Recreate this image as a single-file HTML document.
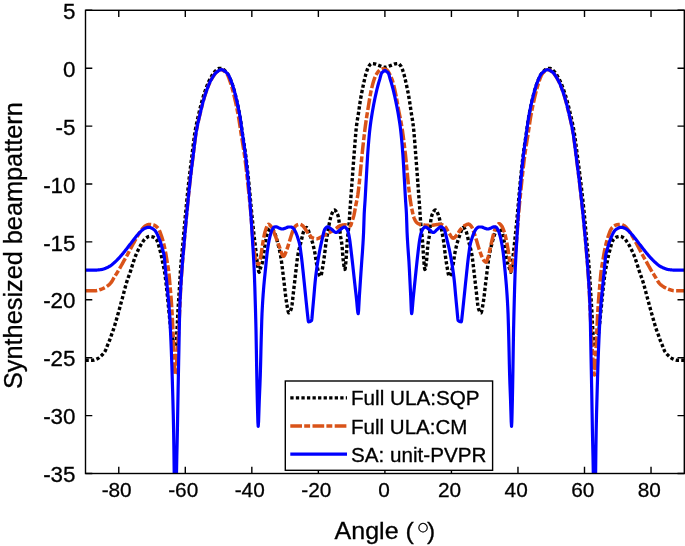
<!DOCTYPE html>
<html lang="en"><head><meta charset="utf-8"><title>Synthesized beampattern</title>
<style>html,body{margin:0;padding:0;background:#fff;}body{width:685px;height:546px;overflow:hidden}</style></head>
<body>
<svg width="685" height="546" viewBox="0 0 685 546" style="display:block">
<rect x="0" y="0" width="685" height="546" fill="#fff"/>
<defs><clipPath id="c"><rect x="85.50" y="10.30" width="598.80" height="463.20"/></clipPath></defs>
<g clip-path="url(#c)" fill="none" stroke-linejoin="round">
<path d="M85.50 360.30 L85.90 360.30 L86.30 360.30 L86.70 360.30 L87.10 360.30 L87.50 360.30 L87.90 360.30 L88.30 360.30 L88.70 360.30 L89.10 360.30 L89.50 360.30 L89.90 360.30 L90.30 360.30 L90.70 360.30 L91.10 360.30 L91.50 360.30 L91.90 360.30 L92.30 360.30 L92.68 360.29 L93.06 360.25 L93.44 360.19 L93.81 360.11 L94.19 360.01 L94.57 359.89 L94.95 359.76 L95.33 359.62 L95.71 359.46 L96.09 359.30 L96.46 359.13 L96.84 358.95 L97.22 358.78 L97.60 358.60 L97.99 358.40 L98.38 358.16 L98.77 357.90 L99.16 357.61 L99.55 357.29 L99.94 356.96 L100.33 356.61 L100.72 356.25 L101.11 355.88 L101.50 355.50 L101.90 355.11 L102.30 354.71 L102.70 354.29 L103.10 353.85 L103.50 353.38 L103.90 352.87 L104.30 352.33 L104.70 351.74 L105.10 351.10 L105.47 350.41 L105.83 349.58 L106.20 348.65 L106.57 347.69 L106.93 346.72 L107.30 345.80 L107.67 344.93 L108.03 344.07 L108.40 343.20 L108.77 342.33 L109.13 341.43 L109.50 340.50 L109.84 339.59 L110.18 338.63 L110.52 337.65 L110.86 336.67 L111.20 335.70 L111.57 334.69 L111.93 333.70 L112.30 332.71 L112.67 331.71 L113.03 330.68 L113.40 329.60 L113.79 328.40 L114.18 327.17 L114.58 325.90 L114.97 324.61 L115.36 323.29 L115.75 321.95 L116.14 320.59 L116.53 319.22 L116.92 317.85 L117.32 316.46 L117.71 315.08 L118.10 313.70 L118.47 312.40 L118.83 311.09 L119.20 309.76 L119.57 308.43 L119.93 307.08 L120.30 305.73 L120.67 304.37 L121.03 303.01 L121.40 301.65 L121.77 300.30 L122.13 298.95 L122.50 297.60 L122.87 296.24 L123.23 294.87 L123.60 293.47 L123.97 292.07 L124.33 290.67 L124.70 289.28 L125.07 287.90 L125.43 286.55 L125.80 285.22 L126.17 283.93 L126.53 282.69 L126.90 281.50 L127.28 280.34 L127.65 279.24 L128.03 278.19 L128.40 277.15 L128.78 276.13 L129.15 275.11 L129.53 274.07 L129.90 273.00 L130.29 271.85 L130.67 270.67 L131.06 269.46 L131.45 268.24 L131.83 266.99 L132.22 265.75 L132.61 264.50 L132.99 263.27 L133.38 262.05 L133.77 260.85 L134.15 259.69 L134.54 258.57 L134.93 257.49 L135.31 256.46 L135.70 255.50 L136.09 254.56 L136.49 253.65 L136.88 252.75 L137.27 251.87 L137.67 251.02 L138.06 250.18 L138.45 249.37 L138.85 248.58 L139.24 247.81 L139.63 247.07 L140.03 246.35 L140.42 245.65 L140.81 244.97 L141.21 244.32 L141.60 243.70 L141.97 243.13 L142.33 242.55 L142.70 241.98 L143.07 241.42 L143.43 240.88 L143.80 240.35 L144.17 239.86 L144.53 239.40 L144.90 238.97 L145.27 238.60 L145.63 238.27 L146.00 238.00 L146.40 237.74 L146.80 237.48 L147.20 237.24 L147.60 237.01 L148.00 236.81 L148.40 236.64 L148.80 236.51 L149.20 236.43 L149.60 236.40 L149.98 236.41 L150.36 236.44 L150.73 236.48 L151.11 236.54 L151.49 236.62 L151.87 236.70 L152.24 236.79 L152.62 236.89 L153.00 237.00 L153.40 237.14 L153.80 237.32 L154.20 237.55 L154.60 237.81 L155.00 238.13 L155.40 238.48 L155.80 238.87 L156.20 239.30 L156.57 239.80 L156.93 240.46 L157.30 241.28 L157.67 242.22 L158.03 243.28 L158.40 244.44 L158.77 245.67 L159.13 246.98 L159.50 248.33 L159.87 249.71 L160.23 251.11 L160.60 252.50 L161.00 254.14 L161.40 256.00 L161.80 257.98 L162.20 260.01 L162.60 262.00 L163.00 263.89 L163.40 265.74 L163.80 267.63 L164.20 269.69 L164.60 272.00 L164.97 274.45 L165.33 277.21 L165.70 280.22 L166.07 283.40 L166.43 286.69 L166.80 290.00 L167.20 293.78 L167.60 297.82 L168.00 301.97 L168.40 306.07 L168.80 310.00 L169.20 313.94 L169.60 318.07 L170.00 322.19 L170.40 326.13 L170.80 329.70 L171.20 332.72 L171.60 335.00 L171.99 336.79 L172.38 338.52 L172.77 340.17 L173.16 341.71 L173.55 343.10 L173.94 344.31 L174.33 345.31 L174.72 346.06 L175.11 346.53 L175.50 346.70 L175.88 345.12 L176.25 341.08 L176.62 335.69 L177.00 330.00 L177.33 323.95 L177.67 316.70 L178.00 310.00 L178.32 304.65 L178.65 299.76 L178.98 294.99 L179.30 290.00 L179.70 283.19 L180.10 276.20 L180.50 270.00 L180.86 265.34 L181.21 261.08 L181.57 257.10 L181.93 253.32 L182.29 249.61 L182.64 245.87 L183.00 242.00 L183.39 237.68 L183.77 233.34 L184.16 228.99 L184.54 224.66 L184.93 220.39 L185.31 216.19 L185.70 212.10 L186.06 208.32 L186.42 204.58 L186.79 200.89 L187.15 197.25 L187.51 193.67 L187.88 190.16 L188.24 186.73 L188.60 183.40 L188.96 180.22 L189.31 177.12 L189.67 174.08 L190.02 171.10 L190.38 168.17 L190.73 165.27 L191.09 162.40 L191.44 159.55 L191.80 156.70 L192.20 153.44 L192.60 150.13 L193.00 146.81 L193.40 143.53 L193.80 140.36 L194.20 137.34 L194.60 134.54 L195.00 132.00 L195.38 129.79 L195.76 127.71 L196.14 125.73 L196.52 123.84 L196.90 122.03 L197.28 120.28 L197.66 118.59 L198.04 116.94 L198.42 115.31 L198.80 113.70 L199.19 112.05 L199.58 110.41 L199.98 108.80 L200.37 107.22 L200.76 105.67 L201.15 104.14 L201.55 102.66 L201.94 101.20 L202.33 99.79 L202.72 98.42 L203.12 97.10 L203.51 95.82 L203.90 94.60 L204.29 93.41 L204.69 92.23 L205.08 91.08 L205.47 89.95 L205.87 88.85 L206.26 87.77 L206.65 86.71 L207.05 85.69 L207.44 84.70 L207.83 83.74 L208.23 82.82 L208.62 81.93 L209.01 81.08 L209.41 80.27 L209.80 79.50 L210.20 78.74 L210.60 78.00 L211.00 77.27 L211.40 76.56 L211.80 75.87 L212.20 75.20 L212.60 74.55 L213.00 73.94 L213.40 73.35 L213.80 72.80 L214.20 72.29 L214.60 71.82 L215.00 71.39 L215.40 71.00 L215.79 70.64 L216.18 70.28 L216.57 69.92 L216.96 69.58 L217.35 69.26 L217.74 68.98 L218.13 68.74 L218.52 68.56 L218.91 68.44 L219.30 68.40 L219.67 68.41 L220.03 68.43 L220.40 68.46 L220.77 68.50 L221.13 68.55 L221.50 68.60 L221.88 68.68 L222.26 68.81 L222.64 68.98 L223.02 69.19 L223.40 69.43 L223.78 69.72 L224.16 70.03 L224.54 70.37 L224.92 70.74 L225.30 71.13 L225.68 71.54 L226.06 71.96 L226.44 72.40 L226.82 72.85 L227.20 73.30 L227.59 73.81 L227.98 74.40 L228.38 75.05 L228.77 75.77 L229.16 76.55 L229.55 77.39 L229.95 78.27 L230.34 79.19 L230.73 80.16 L231.12 81.16 L231.52 82.18 L231.91 83.23 L232.30 84.30 L232.70 85.44 L233.10 86.67 L233.50 87.98 L233.90 89.36 L234.30 90.81 L234.70 92.32 L235.10 93.88 L235.50 95.49 L235.90 97.13 L236.30 98.80 L236.70 100.50 L237.09 102.18 L237.48 103.93 L237.87 105.72 L238.26 107.59 L238.64 109.52 L239.03 111.52 L239.42 113.60 L239.81 115.76 L240.20 118.00 L240.55 120.17 L240.90 122.53 L241.25 125.00 L241.60 127.53 L241.95 130.05 L242.30 132.50 L242.70 135.18 L243.10 137.79 L243.50 140.36 L243.90 142.92 L244.30 145.50 L244.70 148.14 L245.10 150.87 L245.50 153.71 L245.90 156.70 L246.28 159.66 L246.65 162.75 L247.03 165.97 L247.40 169.30 L247.78 172.72 L248.15 176.22 L248.53 179.78 L248.90 183.40 L249.29 187.27 L249.67 191.33 L250.06 195.52 L250.44 199.76 L250.83 203.98 L251.21 208.12 L251.60 212.10 L251.94 215.53 L252.29 218.91 L252.63 222.25 L252.97 225.53 L253.31 228.75 L253.66 231.91 L254.00 235.00 L254.40 238.50 L254.80 241.89 L255.20 245.20 L255.60 248.47 L256.00 251.73 L256.40 255.00 L256.72 257.77 L257.04 260.68 L257.36 263.50 L257.68 266.01 L258.00 268.00 L258.37 269.96 L258.73 271.61 L259.10 272.30 L259.45 271.83 L259.80 270.68 L260.15 269.27 L260.50 268.00 L260.90 266.86 L261.30 265.80 L261.70 264.71 L262.10 263.48 L262.50 262.00 L262.86 260.23 L263.21 257.95 L263.57 255.35 L263.93 252.58 L264.29 249.82 L264.64 247.24 L265.00 245.00 L265.36 242.96 L265.71 240.91 L266.07 238.92 L266.43 237.06 L266.79 235.41 L267.14 234.03 L267.50 233.00 L267.88 232.14 L268.25 231.32 L268.62 230.56 L269.00 229.88 L269.38 229.31 L269.75 228.88 L270.12 228.60 L270.50 228.50 L270.86 228.54 L271.21 228.66 L271.57 228.84 L271.93 229.08 L272.29 229.36 L272.64 229.67 L273.00 230.00 L273.38 230.47 L273.76 231.12 L274.14 231.91 L274.52 232.79 L274.90 233.70 L275.29 234.69 L275.68 235.78 L276.07 236.97 L276.46 238.24 L276.84 239.58 L277.23 240.99 L277.62 242.45 L278.01 243.96 L278.40 245.50 L278.74 246.90 L279.09 248.36 L279.43 249.89 L279.77 251.51 L280.11 253.23 L280.46 255.05 L280.80 257.00 L281.16 259.27 L281.52 261.80 L281.89 264.53 L282.25 267.41 L282.61 270.39 L282.98 273.39 L283.34 276.38 L283.70 279.30 L284.06 282.27 L284.43 285.41 L284.79 288.62 L285.15 291.83 L285.51 294.93 L285.88 297.86 L286.24 300.51 L286.60 302.80 L286.97 305.00 L287.33 307.27 L287.70 309.38 L288.07 311.14 L288.43 312.35 L288.80 312.80 L289.16 312.69 L289.51 312.38 L289.87 311.90 L290.23 311.27 L290.59 310.51 L290.94 309.64 L291.30 308.70 L291.70 307.01 L292.10 304.32 L292.50 300.95 L292.90 297.21 L293.30 293.43 L293.70 289.90 L294.08 286.68 L294.47 283.36 L294.85 279.98 L295.23 276.60 L295.62 273.25 L296.00 270.00 L296.36 266.90 L296.72 263.73 L297.08 260.65 L297.44 257.85 L297.80 255.50 L298.19 253.38 L298.58 251.48 L298.97 249.73 L299.36 248.12 L299.74 246.60 L300.13 245.14 L300.52 243.69 L300.91 242.23 L301.30 240.70 L301.70 239.01 L302.10 237.22 L302.50 235.46 L302.90 233.83 L303.30 232.44 L303.70 231.40 L304.05 230.68 L304.40 229.97 L304.75 229.32 L305.10 228.72 L305.45 228.22 L305.80 227.84 L306.15 227.59 L306.50 227.50 L306.88 227.65 L307.26 228.07 L307.64 228.71 L308.02 229.54 L308.40 230.51 L308.78 231.58 L309.16 232.71 L309.54 233.85 L309.92 234.96 L310.30 236.00 L310.68 237.02 L311.07 238.09 L311.45 239.22 L311.83 240.40 L312.22 241.66 L312.60 243.00 L313.00 244.49 L313.40 246.08 L313.80 247.78 L314.20 249.60 L314.60 251.53 L315.00 253.60 L315.32 255.54 L315.64 257.80 L315.96 260.12 L316.28 262.27 L316.60 264.00 L316.99 265.76 L317.38 267.53 L317.77 269.25 L318.16 270.88 L318.55 272.39 L318.94 273.71 L319.33 274.82 L319.72 275.67 L320.11 276.21 L320.50 276.40 L320.89 275.98 L321.27 274.83 L321.66 273.12 L322.04 271.02 L322.43 268.69 L322.81 266.29 L323.20 264.00 L323.57 261.70 L323.95 259.11 L324.32 256.35 L324.70 253.50 L325.05 250.64 L325.40 247.57 L325.75 244.56 L326.10 241.90 L326.48 239.45 L326.86 237.23 L327.24 235.14 L327.62 233.10 L328.00 231.00 L328.32 229.14 L328.64 227.23 L328.96 225.36 L329.28 223.59 L329.60 222.00 L329.96 220.35 L330.32 218.77 L330.68 217.30 L331.04 216.03 L331.40 215.00 L331.76 214.10 L332.12 213.21 L332.49 212.37 L332.85 211.61 L333.21 210.95 L333.57 210.45 L333.94 210.12 L334.30 210.00 L334.69 210.08 L335.08 210.31 L335.47 210.67 L335.86 211.16 L336.24 211.75 L336.63 212.45 L337.02 213.23 L337.41 214.08 L337.80 215.00 L338.20 216.34 L338.60 218.33 L339.00 220.80 L339.40 224.60 L339.80 229.48 L340.20 233.70 L340.56 236.31 L340.92 238.44 L341.28 240.44 L341.64 242.64 L342.00 245.40 L342.37 249.69 L342.73 254.86 L343.10 259.00 L343.46 261.95 L343.82 264.76 L344.18 267.14 L344.54 268.79 L344.90 269.40 L345.20 268.40 L345.50 265.88 L345.80 262.51 L346.10 259.00 L346.47 253.74 L346.83 247.42 L347.20 241.90 L347.56 237.94 L347.92 234.59 L348.28 231.46 L348.64 228.17 L349.00 224.30 L349.40 218.88 L349.80 212.71 L350.20 206.70 L350.54 201.97 L350.88 197.35 L351.22 192.79 L351.56 188.25 L351.90 183.70 L352.27 178.74 L352.63 173.74 L353.00 168.75 L353.37 163.82 L353.73 158.99 L354.10 154.30 L354.50 149.18 L354.90 143.98 L355.30 138.88 L355.70 134.06 L356.10 129.71 L356.50 126.00 L356.90 122.94 L357.30 120.29 L357.70 117.87 L358.10 115.50 L358.50 113.00 L358.87 110.54 L359.23 108.02 L359.60 105.48 L359.97 103.00 L360.33 100.62 L360.70 98.40 L361.06 96.34 L361.43 94.36 L361.79 92.44 L362.15 90.58 L362.51 88.79 L362.88 87.04 L363.24 85.35 L363.60 83.70 L363.96 82.07 L364.33 80.45 L364.69 78.85 L365.05 77.31 L365.41 75.83 L365.77 74.44 L366.14 73.15 L366.50 72.00 L366.86 70.94 L367.21 69.92 L367.57 68.94 L367.93 68.05 L368.29 67.24 L368.64 66.55 L369.00 66.00 L369.39 65.48 L369.77 64.98 L370.16 64.51 L370.54 64.10 L370.93 63.78 L371.31 63.58 L371.70 63.50 L372.07 63.51 L372.43 63.54 L372.80 63.58 L373.17 63.63 L373.53 63.69 L373.90 63.77 L374.27 63.84 L374.63 63.92 L375.00 64.00 L375.39 64.10 L375.78 64.22 L376.17 64.36 L376.56 64.51 L376.94 64.68 L377.33 64.84 L377.72 65.00 L378.11 65.16 L378.50 65.30 L378.90 65.44 L379.30 65.60 L379.70 65.76 L380.10 65.92 L380.50 66.09 L380.90 66.25 L381.30 66.42 L381.70 66.57 L382.10 66.72 L382.50 66.86 L382.90 66.98 L383.30 67.09 L383.70 67.18 L384.10 67.24 L384.50 67.29 L384.90 67.30 L385.30 67.29 L385.70 67.24 L386.10 67.18 L386.50 67.09 L386.90 66.98 L387.30 66.86 L387.70 66.72 L388.10 66.57 L388.50 66.42 L388.90 66.25 L389.30 66.09 L389.70 65.92 L390.10 65.76 L390.50 65.60 L390.90 65.44 L391.30 65.30 L391.69 65.16 L392.08 65.00 L392.47 64.84 L392.86 64.68 L393.24 64.51 L393.63 64.36 L394.02 64.22 L394.41 64.10 L394.80 64.00 L395.17 63.92 L395.53 63.84 L395.90 63.77 L396.27 63.69 L396.63 63.63 L397.00 63.58 L397.37 63.54 L397.73 63.51 L398.10 63.50 L398.49 63.58 L398.87 63.78 L399.26 64.10 L399.64 64.51 L400.03 64.98 L400.41 65.48 L400.80 66.00 L401.16 66.55 L401.51 67.24 L401.87 68.05 L402.23 68.94 L402.59 69.92 L402.94 70.94 L403.30 72.00 L403.66 73.15 L404.02 74.44 L404.39 75.83 L404.75 77.31 L405.11 78.85 L405.47 80.45 L405.84 82.07 L406.20 83.70 L406.56 85.35 L406.92 87.04 L407.29 88.79 L407.65 90.58 L408.01 92.44 L408.37 94.36 L408.74 96.34 L409.10 98.40 L409.47 100.62 L409.83 103.00 L410.20 105.48 L410.57 108.02 L410.93 110.54 L411.30 113.00 L411.70 115.50 L412.10 117.87 L412.50 120.29 L412.90 122.94 L413.30 126.00 L413.70 129.71 L414.10 134.06 L414.50 138.88 L414.90 143.98 L415.30 149.18 L415.70 154.30 L416.07 158.99 L416.43 163.82 L416.80 168.75 L417.17 173.74 L417.53 178.74 L417.90 183.70 L418.24 188.25 L418.58 192.79 L418.92 197.35 L419.26 201.97 L419.60 206.70 L420.00 212.71 L420.40 218.88 L420.80 224.30 L421.16 228.17 L421.52 231.46 L421.88 234.59 L422.24 237.94 L422.60 241.90 L422.97 247.42 L423.33 253.74 L423.70 259.00 L424.00 262.51 L424.30 265.88 L424.60 268.40 L424.90 269.40 L425.26 268.79 L425.62 267.14 L425.98 264.76 L426.34 261.95 L426.70 259.00 L427.07 254.86 L427.43 249.69 L427.80 245.40 L428.16 242.64 L428.52 240.44 L428.88 238.44 L429.24 236.31 L429.60 233.70 L430.00 229.48 L430.40 224.60 L430.80 220.80 L431.20 218.33 L431.60 216.34 L432.00 215.00 L432.39 214.08 L432.78 213.23 L433.17 212.45 L433.56 211.75 L433.94 211.16 L434.33 210.67 L434.72 210.31 L435.11 210.08 L435.50 210.00 L435.86 210.12 L436.22 210.45 L436.59 210.95 L436.95 211.61 L437.31 212.37 L437.67 213.21 L438.04 214.10 L438.40 215.00 L438.76 216.03 L439.12 217.30 L439.48 218.77 L439.84 220.35 L440.20 222.00 L440.52 223.59 L440.84 225.36 L441.16 227.23 L441.48 229.14 L441.80 231.00 L442.18 233.10 L442.56 235.14 L442.94 237.23 L443.32 239.45 L443.70 241.90 L444.05 244.56 L444.40 247.57 L444.75 250.64 L445.10 253.50 L445.47 256.35 L445.85 259.11 L446.22 261.70 L446.60 264.00 L446.99 266.29 L447.37 268.69 L447.76 271.02 L448.14 273.12 L448.53 274.83 L448.91 275.98 L449.30 276.40 L449.69 276.21 L450.08 275.67 L450.47 274.82 L450.86 273.71 L451.25 272.39 L451.64 270.88 L452.03 269.25 L452.42 267.53 L452.81 265.76 L453.20 264.00 L453.52 262.27 L453.84 260.12 L454.16 257.80 L454.48 255.54 L454.80 253.60 L455.20 251.53 L455.60 249.60 L456.00 247.78 L456.40 246.08 L456.80 244.49 L457.20 243.00 L457.58 241.66 L457.97 240.40 L458.35 239.22 L458.73 238.09 L459.12 237.02 L459.50 236.00 L459.88 234.96 L460.26 233.85 L460.64 232.71 L461.02 231.58 L461.40 230.51 L461.78 229.54 L462.16 228.71 L462.54 228.07 L462.92 227.65 L463.30 227.50 L463.65 227.59 L464.00 227.84 L464.35 228.22 L464.70 228.72 L465.05 229.32 L465.40 229.97 L465.75 230.68 L466.10 231.40 L466.50 232.44 L466.90 233.83 L467.30 235.46 L467.70 237.22 L468.10 239.01 L468.50 240.70 L468.89 242.23 L469.28 243.69 L469.67 245.14 L470.06 246.60 L470.44 248.12 L470.83 249.73 L471.22 251.48 L471.61 253.38 L472.00 255.50 L472.36 257.85 L472.72 260.65 L473.08 263.73 L473.44 266.90 L473.80 270.00 L474.18 273.25 L474.57 276.60 L474.95 279.98 L475.33 283.36 L475.72 286.68 L476.10 289.90 L476.50 293.43 L476.90 297.21 L477.30 300.95 L477.70 304.32 L478.10 307.01 L478.50 308.70 L478.86 309.64 L479.21 310.51 L479.57 311.27 L479.93 311.90 L480.29 312.38 L480.64 312.69 L481.00 312.80 L481.37 312.35 L481.73 311.14 L482.10 309.38 L482.47 307.27 L482.83 305.00 L483.20 302.80 L483.56 300.51 L483.92 297.86 L484.29 294.93 L484.65 291.83 L485.01 288.62 L485.37 285.41 L485.74 282.27 L486.10 279.30 L486.46 276.38 L486.82 273.39 L487.19 270.39 L487.55 267.41 L487.91 264.53 L488.27 261.80 L488.64 259.27 L489.00 257.00 L489.34 255.05 L489.69 253.23 L490.03 251.51 L490.37 249.89 L490.71 248.36 L491.06 246.90 L491.40 245.50 L491.79 243.96 L492.18 242.45 L492.57 240.99 L492.96 239.58 L493.34 238.24 L493.73 236.97 L494.12 235.78 L494.51 234.69 L494.90 233.70 L495.28 232.79 L495.66 231.91 L496.04 231.12 L496.42 230.47 L496.80 230.00 L497.16 229.67 L497.51 229.36 L497.87 229.08 L498.23 228.84 L498.59 228.66 L498.94 228.54 L499.30 228.50 L499.67 228.60 L500.05 228.88 L500.42 229.31 L500.80 229.88 L501.17 230.56 L501.55 231.32 L501.92 232.14 L502.30 233.00 L502.66 234.03 L503.01 235.41 L503.37 237.06 L503.73 238.92 L504.09 240.91 L504.44 242.96 L504.80 245.00 L505.16 247.24 L505.51 249.82 L505.87 252.58 L506.23 255.35 L506.59 257.95 L506.94 260.23 L507.30 262.00 L507.70 263.48 L508.10 264.71 L508.50 265.80 L508.90 266.86 L509.30 268.00 L509.65 269.27 L510.00 270.68 L510.35 271.83 L510.70 272.30 L511.04 271.61 L511.39 269.96 L511.73 268.00 L512.10 265.44 L512.46 262.13 L512.83 258.50 L513.19 255.00 L513.56 251.73 L513.93 248.47 L514.29 245.20 L514.66 241.88 L515.02 238.49 L515.39 235.00 L515.76 231.38 L516.12 227.66 L516.49 223.85 L516.86 219.98 L517.22 216.05 L517.59 212.10 L517.95 208.08 L518.32 203.92 L518.68 199.70 L519.05 195.47 L519.41 191.30 L519.77 187.26 L520.14 183.40 L520.49 179.78 L520.85 176.21 L521.20 172.70 L521.56 169.28 L521.91 165.95 L522.26 162.73 L522.62 159.64 L522.97 156.70 L523.35 153.69 L523.74 150.81 L524.12 148.06 L524.50 145.39 L524.88 142.79 L525.26 140.22 L525.65 137.67 L526.03 135.11 L526.41 132.50 L526.77 130.00 L527.12 127.47 L527.48 124.95 L527.84 122.50 L528.19 120.16 L528.55 118.00 L528.95 115.76 L529.34 113.60 L529.74 111.52 L530.13 109.52 L530.53 107.59 L530.93 105.72 L531.32 103.93 L531.72 102.18 L532.12 100.50 L532.49 98.94 L532.86 97.41 L533.24 95.89 L533.61 94.41 L533.98 92.97 L534.36 91.56 L534.73 90.20 L535.11 88.89 L535.48 87.65 L535.85 86.46 L536.23 85.34 L536.60 84.30 L537.00 83.23 L537.40 82.18 L537.80 81.16 L538.20 80.16 L538.60 79.20 L539.00 78.27 L539.40 77.39 L539.80 76.55 L540.20 75.77 L540.60 75.05 L541.00 74.40 L541.40 73.81 L541.80 73.30 L542.18 72.85 L542.57 72.40 L542.96 71.96 L543.34 71.54 L543.73 71.13 L544.12 70.74 L544.51 70.37 L544.89 70.03 L545.28 69.72 L545.67 69.44 L546.05 69.19 L546.44 68.98 L546.83 68.81 L547.21 68.68 L547.60 68.60 L547.97 68.55 L548.33 68.50 L548.70 68.46 L549.07 68.43 L549.43 68.41 L549.80 68.40 L550.19 68.44 L550.58 68.56 L550.97 68.74 L551.36 68.98 L551.75 69.26 L552.14 69.58 L552.53 69.92 L552.92 70.28 L553.31 70.64 L553.70 71.00 L554.07 71.36 L554.45 71.76 L554.82 72.19 L555.19 72.66 L555.57 73.17 L555.94 73.70 L556.31 74.26 L556.69 74.85 L557.06 75.46 L557.43 76.09 L557.81 76.75 L558.18 77.42 L558.55 78.10 L558.93 78.79 L559.30 79.50 L559.69 80.27 L560.09 81.08 L560.48 81.93 L560.87 82.82 L561.27 83.74 L561.66 84.70 L562.05 85.69 L562.45 86.71 L562.84 87.77 L563.23 88.85 L563.63 89.95 L564.02 91.08 L564.41 92.23 L564.81 93.41 L565.20 94.60 L565.59 95.83 L565.98 97.10 L566.38 98.43 L566.77 99.80 L567.16 101.21 L567.55 102.67 L567.95 104.16 L568.34 105.68 L568.73 107.24 L569.12 108.82 L569.52 110.43 L569.91 112.05 L570.30 113.70 L570.68 115.32 L571.07 116.96 L571.45 118.63 L571.84 120.33 L572.22 122.09 L572.60 123.90 L572.99 125.79 L573.37 127.76 L573.76 129.83 L574.14 132.00 L574.51 134.28 L574.89 136.76 L575.26 139.41 L575.63 142.19 L576.01 145.05 L576.38 147.97 L576.75 150.91 L577.13 153.83 L577.50 156.70 L577.88 159.57 L578.26 162.45 L578.64 165.34 L579.02 168.24 L579.40 171.18 L579.78 174.15 L580.16 177.17 L580.54 180.25 L580.92 183.40 L581.32 186.75 L581.71 190.14 L582.11 193.60 L582.51 197.12 L582.91 200.72 L583.30 204.40 L583.70 208.20 L584.10 212.10 L584.49 216.06 L584.87 220.20 L585.26 224.48 L585.64 228.85 L586.03 233.26 L586.41 237.66 L586.80 242.00 L587.16 245.87 L587.51 249.61 L587.87 253.32 L588.23 257.10 L588.59 261.08 L588.94 265.34 L589.30 270.00 L589.60 274.54 L589.90 279.66 L590.20 284.94 L590.50 290.00 L590.83 294.99 L591.15 299.76 L591.47 304.65 L591.80 310.00 L592.13 316.70 L592.47 323.95 L592.80 330.00 L593.17 335.69 L593.55 341.08 L593.92 345.12 L594.30 346.70 L594.69 346.53 L595.08 346.06 L595.47 345.31 L595.86 344.31 L596.25 343.10 L596.64 341.71 L597.03 340.17 L597.42 338.52 L597.81 336.79 L598.20 335.00 L598.55 333.05 L598.90 330.52 L599.25 327.53 L599.60 324.20 L599.95 320.66 L600.30 317.03 L600.65 313.43 L601.00 310.00 L601.40 306.07 L601.80 301.97 L602.20 297.82 L602.60 293.78 L603.00 290.00 L603.37 286.69 L603.73 283.40 L604.10 280.22 L604.47 277.21 L604.83 274.45 L605.20 272.00 L605.60 269.69 L606.00 267.63 L606.40 265.74 L606.80 263.89 L607.20 262.00 L607.60 260.01 L608.00 257.98 L608.40 256.00 L608.80 254.14 L609.20 252.50 L609.60 250.98 L610.00 249.46 L610.40 247.96 L610.80 246.50 L611.20 245.10 L611.60 243.79 L612.00 242.59 L612.40 241.52 L612.80 240.60 L613.20 239.85 L613.60 239.30 L613.96 238.92 L614.31 238.56 L614.67 238.24 L615.02 237.95 L615.38 237.69 L615.73 237.47 L616.09 237.27 L616.44 237.12 L616.80 237.00 L617.18 236.89 L617.56 236.79 L617.93 236.70 L618.31 236.62 L618.69 236.54 L619.07 236.48 L619.44 236.44 L619.82 236.41 L620.20 236.40 L620.56 236.42 L620.92 236.49 L621.28 236.60 L621.64 236.74 L622.00 236.91 L622.36 237.10 L622.72 237.31 L623.08 237.53 L623.44 237.77 L623.80 238.00 L624.20 238.30 L624.60 238.66 L625.00 239.08 L625.40 239.56 L625.80 240.08 L626.20 240.63 L626.60 241.22 L627.00 241.83 L627.40 242.45 L627.80 243.07 L628.20 243.70 L628.59 244.32 L628.99 244.97 L629.38 245.65 L629.77 246.35 L630.17 247.07 L630.56 247.81 L630.95 248.58 L631.35 249.37 L631.74 250.18 L632.13 251.02 L632.53 251.87 L632.92 252.75 L633.31 253.65 L633.71 254.56 L634.10 255.50 L634.49 256.46 L634.87 257.49 L635.26 258.57 L635.65 259.69 L636.03 260.85 L636.42 262.05 L636.81 263.27 L637.19 264.50 L637.58 265.75 L637.97 266.99 L638.35 268.24 L638.74 269.46 L639.13 270.67 L639.51 271.85 L639.90 273.00 L640.27 274.07 L640.65 275.11 L641.02 276.13 L641.40 277.15 L641.77 278.19 L642.15 279.24 L642.52 280.34 L642.90 281.50 L643.30 282.80 L643.70 284.16 L644.10 285.58 L644.50 287.04 L644.90 288.53 L645.30 290.04 L645.70 291.56 L646.10 293.09 L646.50 294.61 L646.90 296.12 L647.30 297.60 L647.70 299.07 L648.10 300.54 L648.50 302.02 L648.90 303.51 L649.30 304.99 L649.70 306.47 L650.10 307.94 L650.50 309.40 L650.90 310.85 L651.30 312.28 L651.70 313.70 L652.09 315.08 L652.48 316.46 L652.88 317.85 L653.27 319.22 L653.66 320.59 L654.05 321.95 L654.44 323.29 L654.83 324.61 L655.22 325.90 L655.62 327.17 L656.01 328.40 L656.40 329.60 L656.77 330.68 L657.13 331.71 L657.50 332.71 L657.87 333.70 L658.23 334.69 L658.60 335.70 L658.94 336.67 L659.28 337.65 L659.62 338.63 L659.96 339.59 L660.30 340.50 L660.67 341.43 L661.03 342.33 L661.40 343.20 L661.77 344.07 L662.13 344.93 L662.50 345.80 L662.87 346.72 L663.23 347.69 L663.60 348.65 L663.97 349.58 L664.33 350.41 L664.70 351.10 L665.06 351.68 L665.42 352.21 L665.78 352.71 L666.14 353.18 L666.50 353.61 L666.86 354.03 L667.22 354.42 L667.58 354.79 L667.94 355.15 L668.30 355.50 L668.69 355.88 L669.08 356.25 L669.47 356.61 L669.86 356.96 L670.25 357.29 L670.64 357.61 L671.03 357.90 L671.42 358.16 L671.81 358.40 L672.20 358.60 L672.58 358.78 L672.96 358.95 L673.34 359.13 L673.71 359.30 L674.09 359.46 L674.47 359.62 L674.85 359.76 L675.23 359.89 L675.61 360.01 L675.99 360.11 L676.36 360.19 L676.74 360.25 L677.12 360.29 L677.50 360.30 L677.90 360.30 L678.30 360.30 L678.70 360.30 L679.10 360.30 L679.50 360.30 L679.90 360.30 L680.30 360.30 L680.70 360.30 L681.10 360.30 L681.50 360.30 L681.90 360.30 L682.30 360.30 L682.70 360.30 L683.10 360.30 L683.50 360.30 L683.90 360.30 L684.30 360.30" stroke="#000" stroke-width="3.4" stroke-dasharray="3.3 2.25"/>
<path d="M85.50 290.80 L85.90 290.80 L86.29 290.80 L86.69 290.80 L87.08 290.80 L87.48 290.80 L87.88 290.79 L88.27 290.79 L88.67 290.79 L89.06 290.79 L89.46 290.78 L89.86 290.78 L90.25 290.78 L90.65 290.77 L91.04 290.77 L91.44 290.77 L91.84 290.76 L92.23 290.75 L92.63 290.75 L93.02 290.74 L93.42 290.74 L93.82 290.73 L94.21 290.72 L94.61 290.72 L95.00 290.71 L95.40 290.70 L95.79 290.68 L96.18 290.65 L96.56 290.60 L96.95 290.53 L97.34 290.45 L97.72 290.36 L98.11 290.26 L98.50 290.15 L98.89 290.03 L99.28 289.91 L99.66 289.78 L100.05 289.65 L100.44 289.51 L100.82 289.37 L101.21 289.24 L101.60 289.10 L101.97 288.97 L102.33 288.82 L102.70 288.67 L103.07 288.50 L103.43 288.33 L103.80 288.15 L104.17 287.96 L104.53 287.76 L104.90 287.55 L105.27 287.34 L105.63 287.12 L106.00 286.90 L106.37 286.67 L106.73 286.44 L107.10 286.19 L107.47 285.94 L107.83 285.67 L108.20 285.40 L108.57 285.10 L108.93 284.80 L109.30 284.48 L109.67 284.14 L110.03 283.78 L110.40 283.40 L110.80 282.94 L111.20 282.41 L111.60 281.83 L112.00 281.20 L112.40 280.54 L112.80 279.85 L113.20 279.15 L113.60 278.44 L114.00 277.74 L114.40 277.06 L114.80 276.40 L115.17 275.81 L115.53 275.23 L115.90 274.65 L116.27 274.07 L116.63 273.49 L117.00 272.90 L117.37 272.32 L117.73 271.73 L118.10 271.13 L118.47 270.53 L118.83 269.92 L119.20 269.30 L119.60 268.61 L120.00 267.91 L120.40 267.20 L120.80 266.48 L121.20 265.75 L121.60 265.02 L122.00 264.29 L122.40 263.56 L122.80 262.83 L123.20 262.11 L123.60 261.40 L123.99 260.72 L124.38 260.04 L124.77 259.37 L125.16 258.70 L125.54 258.02 L125.93 257.35 L126.32 256.68 L126.71 255.99 L127.10 255.30 L127.49 254.59 L127.88 253.88 L128.27 253.16 L128.66 252.43 L129.05 251.70 L129.45 250.96 L129.84 250.21 L130.23 249.47 L130.62 248.72 L131.01 247.97 L131.40 247.22 L131.79 246.47 L132.18 245.73 L132.57 244.99 L132.96 244.25 L133.35 243.52 L133.75 242.79 L134.14 242.08 L134.53 241.37 L134.92 240.67 L135.31 239.98 L135.70 239.30 L136.09 238.62 L136.49 237.93 L136.88 237.24 L137.27 236.55 L137.67 235.86 L138.06 235.18 L138.45 234.50 L138.85 233.84 L139.24 233.19 L139.63 232.56 L140.03 231.95 L140.42 231.37 L140.81 230.82 L141.21 230.29 L141.60 229.80 L141.97 229.36 L142.33 228.92 L142.70 228.48 L143.07 228.05 L143.43 227.64 L143.80 227.25 L144.17 226.87 L144.53 226.53 L144.90 226.21 L145.27 225.93 L145.63 225.69 L146.00 225.50 L146.39 225.32 L146.78 225.14 L147.17 224.97 L147.56 224.82 L147.94 224.68 L148.33 224.56 L148.72 224.48 L149.11 224.42 L149.50 224.40 L149.89 224.41 L150.28 224.43 L150.67 224.45 L151.06 224.49 L151.44 224.54 L151.83 224.60 L152.22 224.66 L152.61 224.73 L153.00 224.80 L153.38 224.89 L153.75 225.02 L154.12 225.18 L154.50 225.37 L154.88 225.58 L155.25 225.81 L155.62 226.05 L156.00 226.30 L156.36 226.55 L156.71 226.84 L157.07 227.15 L157.43 227.50 L157.79 227.89 L158.14 228.32 L158.50 228.80 L158.85 229.36 L159.20 230.03 L159.55 230.81 L159.90 231.67 L160.25 232.58 L160.60 233.54 L160.95 234.52 L161.30 235.50 L161.64 236.48 L161.98 237.53 L162.32 238.64 L162.66 239.80 L163.00 241.00 L163.40 242.50 L163.80 244.10 L164.20 245.80 L164.57 247.49 L164.95 249.27 L165.32 251.14 L165.70 253.10 L166.07 255.19 L166.45 257.42 L166.82 259.71 L167.20 262.00 L167.52 263.89 L167.85 265.74 L168.18 267.72 L168.50 270.00 L168.88 273.22 L169.26 276.97 L169.64 281.12 L170.02 285.51 L170.40 290.00 L170.78 294.49 L171.15 299.22 L171.53 304.33 L171.90 310.00 L172.28 316.71 L172.65 324.40 L173.03 332.39 L173.40 340.00 L173.78 348.29 L174.16 357.53 L174.54 366.11 L174.92 372.44 L175.30 374.90 L175.67 373.77 L176.03 370.72 L176.40 366.29 L176.77 361.00 L177.13 355.40 L177.50 350.00 L177.87 344.52 L178.23 338.39 L178.60 331.74 L178.97 324.71 L179.33 317.42 L179.70 310.00 L180.00 303.34 L180.30 296.28 L180.60 290.00 L180.93 284.35 L181.25 279.24 L181.57 274.51 L181.90 270.00 L182.28 264.90 L182.67 260.07 L183.05 255.45 L183.43 250.95 L183.82 246.53 L184.20 242.10 L184.59 237.64 L184.97 233.23 L185.36 228.87 L185.74 224.58 L186.13 220.34 L186.51 216.18 L186.90 212.10 L187.26 208.32 L187.62 204.58 L187.99 200.88 L188.35 197.24 L188.71 193.66 L189.08 190.16 L189.44 186.73 L189.80 183.40 L190.20 179.83 L190.60 176.35 L191.00 172.96 L191.40 169.63 L191.80 166.36 L192.20 163.12 L192.60 159.91 L193.00 156.70 L193.40 153.44 L193.80 150.11 L194.20 146.78 L194.60 143.50 L195.00 140.32 L195.40 137.30 L195.80 134.51 L196.20 132.00 L196.59 129.78 L196.98 127.68 L197.37 125.70 L197.76 123.82 L198.15 122.02 L198.54 120.29 L198.93 118.61 L199.32 116.96 L199.71 115.33 L200.10 113.70 L200.49 112.06 L200.88 110.44 L201.28 108.83 L201.67 107.24 L202.06 105.68 L202.45 104.15 L202.85 102.65 L203.24 101.19 L203.63 99.77 L204.02 98.40 L204.42 97.08 L204.81 95.81 L205.20 94.60 L205.59 93.43 L205.99 92.27 L206.38 91.14 L206.77 90.02 L207.17 88.94 L207.56 87.88 L207.95 86.84 L208.35 85.84 L208.74 84.88 L209.13 83.95 L209.53 83.05 L209.92 82.20 L210.31 81.39 L210.71 80.62 L211.10 79.90 L211.49 79.22 L211.87 78.55 L212.26 77.89 L212.65 77.25 L213.03 76.63 L213.42 76.02 L213.81 75.44 L214.19 74.89 L214.58 74.36 L214.97 73.86 L215.35 73.39 L215.74 72.96 L216.13 72.57 L216.51 72.21 L216.90 71.90 L217.27 71.62 L217.65 71.33 L218.02 71.05 L218.39 70.78 L218.76 70.53 L219.14 70.30 L219.51 70.10 L219.88 69.93 L220.25 69.81 L220.63 69.73 L221.00 69.70 L221.39 69.73 L221.79 69.80 L222.18 69.92 L222.57 70.08 L222.96 70.27 L223.36 70.51 L223.75 70.78 L224.14 71.07 L224.54 71.40 L224.93 71.74 L225.32 72.11 L225.71 72.49 L226.11 72.89 L226.50 73.30 L226.88 73.76 L227.25 74.35 L227.62 75.05 L228.00 75.85 L228.38 76.74 L228.75 77.70 L229.12 78.73 L229.50 79.80 L229.88 80.90 L230.25 82.03 L230.62 83.17 L231.00 84.30 L231.38 85.49 L231.76 86.75 L232.15 88.08 L232.53 89.48 L232.91 90.93 L233.29 92.44 L233.67 93.99 L234.05 95.58 L234.44 97.19 L234.82 98.84 L235.20 100.50 L235.59 102.22 L235.98 103.99 L236.37 105.81 L236.76 107.69 L237.14 109.62 L237.53 111.62 L237.92 113.68 L238.31 115.80 L238.70 118.00 L239.07 120.21 L239.43 122.57 L239.80 125.05 L240.17 127.56 L240.53 130.07 L240.90 132.50 L241.28 134.92 L241.66 137.28 L242.04 139.59 L242.42 141.88 L242.80 144.19 L243.18 146.52 L243.56 148.91 L243.94 151.39 L244.32 153.98 L244.70 156.70 L245.09 159.64 L245.47 162.74 L245.86 165.98 L246.25 169.33 L246.64 172.77 L247.03 176.28 L247.41 179.83 L247.80 183.40 L248.16 186.75 L248.53 190.14 L248.89 193.58 L249.25 197.09 L249.61 200.68 L249.97 204.36 L250.34 208.17 L250.70 212.10 L251.05 216.19 L251.40 220.61 L251.75 225.18 L252.10 229.72 L252.45 234.06 L252.80 238.00 L253.18 241.98 L253.55 245.83 L253.93 249.26 L254.30 252.00 L254.68 254.22 L255.06 256.19 L255.44 257.91 L255.82 259.35 L256.20 260.50 L256.57 261.46 L256.93 262.39 L257.30 263.22 L257.67 263.89 L258.03 264.34 L258.40 264.50 L258.75 264.22 L259.10 263.47 L259.45 262.35 L259.80 260.99 L260.15 259.50 L260.50 258.00 L260.90 255.94 L261.30 253.33 L261.70 250.44 L262.10 247.57 L262.50 245.00 L262.86 242.90 L263.21 240.77 L263.57 238.68 L263.93 236.70 L264.29 234.88 L264.64 233.30 L265.00 232.00 L265.39 230.76 L265.78 229.54 L266.17 228.36 L266.56 227.27 L266.94 226.30 L267.33 225.48 L267.72 224.85 L268.11 224.44 L268.50 224.30 L268.88 224.36 L269.25 224.54 L269.62 224.82 L270.00 225.17 L270.38 225.58 L270.75 226.04 L271.12 226.52 L271.50 227.00 L271.89 227.57 L272.28 228.28 L272.67 229.10 L273.06 230.01 L273.44 230.97 L273.83 231.98 L274.22 233.01 L274.61 234.02 L275.00 235.00 L275.39 235.98 L275.78 237.00 L276.17 238.04 L276.56 239.11 L276.95 240.19 L277.35 241.27 L277.74 242.36 L278.13 243.43 L278.52 244.48 L278.91 245.51 L279.30 246.50 L279.68 247.51 L280.06 248.63 L280.45 249.80 L280.83 250.99 L281.21 252.15 L281.59 253.25 L281.97 254.24 L282.35 255.08 L282.74 255.73 L283.12 256.15 L283.50 256.30 L283.89 256.15 L284.28 255.72 L284.67 255.06 L285.06 254.22 L285.44 253.25 L285.83 252.19 L286.22 251.10 L286.61 250.02 L287.00 249.00 L287.39 247.97 L287.78 246.83 L288.17 245.62 L288.56 244.35 L288.94 243.05 L289.33 241.74 L289.72 240.44 L290.11 239.19 L290.50 238.00 L290.89 236.82 L291.28 235.59 L291.67 234.34 L292.06 233.11 L292.44 231.92 L292.83 230.80 L293.22 229.79 L293.61 228.92 L294.00 228.20 L294.36 227.64 L294.71 227.12 L295.07 226.64 L295.43 226.21 L295.79 225.84 L296.14 225.53 L296.50 225.30 L296.90 225.09 L297.30 224.88 L297.70 224.70 L298.10 224.53 L298.50 224.40 L298.90 224.29 L299.30 224.22 L299.70 224.20 L300.05 224.23 L300.40 224.33 L300.75 224.47 L301.10 224.65 L301.45 224.86 L301.80 225.10 L302.15 225.35 L302.50 225.60 L302.88 225.91 L303.25 226.31 L303.62 226.76 L304.00 227.27 L304.38 227.80 L304.75 228.34 L305.12 228.88 L305.50 229.40 L305.87 229.91 L306.25 230.46 L306.62 231.02 L306.99 231.59 L307.36 232.17 L307.74 232.74 L308.11 233.29 L308.48 233.83 L308.85 234.33 L309.23 234.79 L309.60 235.20 L309.98 235.59 L310.36 235.98 L310.73 236.36 L311.11 236.72 L311.49 237.06 L311.87 237.36 L312.24 237.62 L312.62 237.84 L313.00 238.00 L313.37 238.13 L313.74 238.25 L314.11 238.36 L314.48 238.47 L314.85 238.56 L315.22 238.64 L315.59 238.71 L315.96 238.76 L316.33 238.79 L316.70 238.80 L317.08 238.77 L317.46 238.70 L317.84 238.58 L318.22 238.44 L318.60 238.26 L318.98 238.07 L319.36 237.88 L319.74 237.67 L320.12 237.48 L320.50 237.30 L320.87 237.13 L321.25 236.95 L321.62 236.76 L321.99 236.57 L322.37 236.37 L322.74 236.17 L323.11 235.97 L323.49 235.76 L323.86 235.55 L324.23 235.34 L324.61 235.13 L324.98 234.92 L325.35 234.71 L325.73 234.50 L326.10 234.30 L326.49 234.09 L326.88 233.88 L327.27 233.67 L327.66 233.47 L328.05 233.26 L328.44 233.06 L328.83 232.85 L329.22 232.64 L329.61 232.44 L330.00 232.23 L330.40 232.02 L330.79 231.81 L331.18 231.60 L331.57 231.39 L331.96 231.17 L332.35 230.95 L332.74 230.73 L333.13 230.50 L333.52 230.27 L333.91 230.04 L334.30 229.80 L334.69 229.54 L335.09 229.26 L335.48 228.96 L335.87 228.65 L336.27 228.33 L336.66 228.00 L337.05 227.67 L337.45 227.35 L337.84 227.04 L338.23 226.75 L338.63 226.48 L339.02 226.23 L339.41 226.02 L339.81 225.84 L340.20 225.70 L340.59 225.59 L340.98 225.47 L341.38 225.37 L341.77 225.26 L342.16 225.17 L342.55 225.08 L342.94 225.00 L343.33 224.93 L343.72 224.88 L344.12 224.83 L344.51 224.81 L344.90 224.80 L345.29 224.82 L345.67 224.87 L346.06 224.94 L346.44 225.04 L346.83 225.15 L347.21 225.27 L347.60 225.40 L347.99 225.53 L348.37 225.65 L348.76 225.76 L349.14 225.86 L349.53 225.93 L349.91 225.98 L350.30 226.00 L350.64 225.69 L350.98 224.89 L351.32 223.79 L351.66 222.60 L352.00 221.50 L352.34 220.52 L352.68 219.52 L353.02 218.48 L353.36 217.35 L353.70 216.10 L354.08 214.48 L354.47 212.63 L354.85 210.62 L355.23 208.53 L355.62 206.43 L356.00 204.40 L356.36 202.60 L356.72 200.86 L357.08 199.08 L357.44 197.15 L357.80 195.00 L358.15 192.56 L358.50 189.78 L358.85 186.79 L359.20 183.70 L359.56 180.35 L359.93 176.76 L360.29 173.01 L360.65 169.17 L361.01 165.31 L361.38 161.50 L361.74 157.80 L362.10 154.30 L362.48 150.78 L362.86 147.30 L363.23 143.86 L363.61 140.48 L363.99 137.17 L364.37 133.96 L364.74 130.85 L365.12 127.86 L365.50 125.00 L365.86 122.43 L366.21 119.96 L366.57 117.59 L366.93 115.29 L367.29 113.06 L367.64 110.86 L368.00 108.70 L368.37 106.45 L368.74 104.17 L369.11 101.89 L369.48 99.64 L369.85 97.44 L370.22 95.32 L370.59 93.30 L370.96 91.41 L371.33 89.66 L371.70 88.10 L372.09 86.57 L372.48 85.09 L372.87 83.66 L373.26 82.29 L373.65 80.99 L374.05 79.76 L374.44 78.62 L374.83 77.56 L375.22 76.60 L375.61 75.75 L376.00 75.00 L376.40 74.31 L376.80 73.65 L377.20 73.03 L377.60 72.45 L378.00 71.91 L378.40 71.42 L378.80 70.98 L379.20 70.60 L379.60 70.27 L380.00 70.00 L380.38 69.78 L380.75 69.56 L381.12 69.36 L381.50 69.18 L381.88 69.02 L382.25 68.90 L382.62 68.83 L383.00 68.80 L383.39 68.81 L383.78 68.85 L384.17 68.92 L384.56 69.00 L384.94 69.11 L385.33 69.23 L385.72 69.38 L386.11 69.53 L386.50 69.70 L386.86 69.93 L387.21 70.28 L387.57 70.73 L387.93 71.26 L388.29 71.82 L388.64 72.41 L389.00 73.00 L389.38 73.62 L389.75 74.28 L390.12 74.98 L390.50 75.73 L390.88 76.54 L391.25 77.40 L391.62 78.31 L392.00 79.30 L392.37 80.37 L392.74 81.57 L393.11 82.87 L393.48 84.27 L393.85 85.76 L394.22 87.31 L394.59 88.93 L394.96 90.59 L395.33 92.29 L395.70 94.00 L396.06 95.77 L396.43 97.67 L396.79 99.68 L397.15 101.75 L397.51 103.86 L397.88 105.96 L398.24 108.02 L398.60 110.00 L398.99 112.01 L399.38 113.94 L399.76 115.82 L400.15 117.69 L400.54 119.61 L400.93 121.60 L401.31 123.72 L401.70 126.00 L402.07 128.34 L402.44 130.81 L402.81 133.40 L403.18 136.11 L403.55 138.93 L403.92 141.84 L404.29 144.85 L404.66 147.93 L405.03 151.08 L405.40 154.30 L405.76 157.63 L406.12 161.21 L406.49 164.96 L406.85 168.82 L407.21 172.70 L407.57 176.52 L407.94 180.21 L408.30 183.70 L408.62 186.70 L408.95 189.64 L409.28 192.43 L409.60 195.00 L409.96 197.65 L410.32 200.18 L410.68 202.56 L411.04 204.74 L411.40 206.70 L411.76 208.53 L412.12 210.31 L412.49 212.02 L412.85 213.62 L413.21 215.10 L413.57 216.42 L413.94 217.56 L414.30 218.50 L414.69 219.35 L415.07 220.13 L415.46 220.83 L415.84 221.46 L416.23 222.00 L416.61 222.45 L417.00 222.80 L417.38 223.08 L417.76 223.35 L418.13 223.59 L418.51 223.81 L418.89 224.00 L419.27 224.17 L419.64 224.31 L420.02 224.42 L420.40 224.50 L420.79 224.57 L421.18 224.63 L421.57 224.69 L421.95 224.75 L422.34 224.80 L422.73 224.86 L423.12 224.91 L423.51 224.96 L423.90 225.00 L424.28 225.05 L424.67 225.09 L425.06 225.13 L425.45 225.17 L425.84 225.20 L426.23 225.23 L426.62 225.26 L427.00 225.29 L427.39 225.31 L427.78 225.33 L428.17 225.35 L428.56 225.36 L428.95 225.38 L429.33 225.39 L429.72 225.39 L430.11 225.40 L430.50 225.40 L430.89 225.39 L431.28 225.38 L431.67 225.35 L432.07 225.31 L432.46 225.27 L432.85 225.21 L433.24 225.16 L433.63 225.09 L434.02 225.03 L434.41 224.96 L434.80 224.89 L435.20 224.81 L435.59 224.74 L435.98 224.67 L436.37 224.61 L436.76 224.54 L437.15 224.49 L437.54 224.43 L437.93 224.39 L438.33 224.35 L438.72 224.32 L439.11 224.31 L439.50 224.30 L439.88 224.32 L440.25 224.36 L440.62 224.43 L441.00 224.52 L441.38 224.63 L441.75 224.74 L442.12 224.87 L442.50 225.00 L442.86 225.14 L443.21 225.31 L443.57 225.52 L443.93 225.75 L444.29 226.01 L444.64 226.29 L445.00 226.60 L445.37 226.98 L445.75 227.46 L446.12 228.02 L446.49 228.64 L446.86 229.30 L447.24 229.99 L447.61 230.68 L447.98 231.37 L448.35 232.03 L448.73 232.65 L449.10 233.20 L449.47 233.74 L449.85 234.33 L450.22 234.93 L450.59 235.54 L450.96 236.13 L451.34 236.68 L451.71 237.18 L452.08 237.59 L452.45 237.92 L452.83 238.13 L453.20 238.20 L453.59 238.14 L453.98 237.97 L454.37 237.71 L454.76 237.37 L455.14 236.98 L455.53 236.55 L455.92 236.09 L456.31 235.64 L456.70 235.20 L457.09 234.73 L457.48 234.18 L457.87 233.57 L458.26 232.92 L458.64 232.26 L459.03 231.61 L459.42 230.98 L459.81 230.41 L460.20 229.90 L460.58 229.45 L460.96 229.00 L461.35 228.56 L461.73 228.13 L462.11 227.73 L462.49 227.34 L462.87 226.97 L463.25 226.63 L463.64 226.32 L464.02 226.04 L464.40 225.80 L464.77 225.58 L465.15 225.36 L465.52 225.15 L465.89 224.94 L466.26 224.74 L466.64 224.57 L467.01 224.41 L467.38 224.28 L467.75 224.18 L468.13 224.12 L468.50 224.10 L468.86 224.15 L469.23 224.30 L469.59 224.52 L469.95 224.82 L470.31 225.16 L470.67 225.55 L471.04 225.97 L471.40 226.40 L471.76 226.93 L472.12 227.62 L472.49 228.45 L472.85 229.38 L473.21 230.38 L473.57 231.42 L473.94 232.47 L474.30 233.50 L474.70 234.65 L475.10 235.88 L475.50 237.16 L475.90 238.47 L476.30 239.79 L476.70 241.10 L477.08 242.36 L477.47 243.66 L477.85 244.97 L478.23 246.26 L478.62 247.51 L479.00 248.70 L479.38 249.83 L479.75 250.95 L480.12 252.05 L480.50 253.12 L480.88 254.16 L481.25 255.14 L481.62 256.06 L482.00 256.90 L482.38 257.72 L482.77 258.53 L483.15 259.29 L483.53 259.98 L483.92 260.56 L484.30 261.00 L484.66 261.34 L485.02 261.67 L485.38 261.94 L485.74 262.13 L486.10 262.20 L486.44 261.94 L486.78 261.24 L487.12 260.27 L487.46 259.17 L487.80 258.10 L488.16 256.93 L488.52 255.59 L488.88 254.14 L489.24 252.62 L489.60 251.10 L489.94 249.63 L490.28 248.08 L490.62 246.50 L490.96 244.92 L491.30 243.40 L491.66 241.82 L492.02 240.26 L492.38 238.72 L492.74 237.23 L493.10 235.80 L493.46 234.40 L493.82 233.00 L494.18 231.67 L494.54 230.45 L494.90 229.40 L495.24 228.52 L495.58 227.69 L495.92 226.95 L496.26 226.31 L496.60 225.80 L497.00 225.29 L497.40 224.80 L497.80 224.37 L498.20 224.02 L498.60 223.79 L499.00 223.70 L499.37 223.76 L499.74 223.93 L500.11 224.20 L500.49 224.54 L500.86 224.93 L501.23 225.36 L501.60 225.80 L501.98 226.37 L502.36 227.13 L502.74 228.01 L503.12 228.95 L503.50 229.90 L503.82 230.70 L504.15 231.54 L504.48 232.46 L504.80 233.50 L505.16 234.85 L505.52 236.40 L505.88 238.11 L506.24 239.89 L506.60 241.70 L506.94 243.41 L507.28 245.15 L507.62 246.99 L507.96 248.95 L508.30 251.10 L508.62 253.48 L508.95 256.16 L509.28 258.94 L509.60 261.60 L509.93 264.56 L510.25 267.77 L510.57 270.34 L510.90 271.40 L511.28 271.00 L511.66 269.93 L512.04 268.35 L512.42 266.44 L512.80 264.38 L513.18 262.34 L513.56 260.50 L513.92 258.98 L514.28 257.49 L514.64 255.91 L514.99 254.12 L515.35 252.00 L515.70 249.26 L516.06 245.81 L516.41 241.97 L516.76 238.00 L517.09 234.03 L517.43 229.68 L517.76 225.14 L518.10 220.57 L518.43 216.17 L518.76 212.10 L519.11 208.15 L519.46 204.33 L519.81 200.65 L520.16 197.06 L520.52 193.56 L520.87 190.13 L521.22 186.75 L521.57 183.40 L521.94 179.83 L522.32 176.27 L522.69 172.76 L523.07 169.31 L523.44 165.95 L523.81 162.72 L524.19 159.62 L524.56 156.70 L524.94 153.96 L525.31 151.36 L525.68 148.87 L526.05 146.48 L526.43 144.14 L526.80 141.84 L527.17 139.55 L527.55 137.25 L527.92 134.91 L528.29 132.50 L528.66 130.06 L529.02 127.55 L529.39 125.03 L529.75 122.57 L530.12 120.20 L530.48 118.00 L530.87 115.80 L531.25 113.68 L531.64 111.62 L532.03 109.62 L532.42 107.69 L532.80 105.81 L533.19 103.99 L533.58 102.22 L533.96 100.50 L534.34 98.84 L534.72 97.19 L535.10 95.58 L535.48 93.99 L535.86 92.44 L536.24 90.93 L536.62 89.48 L537.00 88.08 L537.38 86.75 L537.76 85.49 L538.14 84.30 L538.52 83.17 L538.89 82.03 L539.26 80.90 L539.64 79.80 L540.01 78.73 L540.38 77.70 L540.76 76.74 L541.13 75.85 L541.50 75.05 L541.88 74.35 L542.25 73.76 L542.62 73.30 L543.01 72.89 L543.40 72.49 L543.80 72.11 L544.19 71.74 L544.58 71.40 L544.97 71.07 L545.36 70.78 L545.75 70.51 L546.14 70.27 L546.53 70.08 L546.93 69.92 L547.32 69.80 L547.71 69.73 L548.10 69.70 L548.47 69.73 L548.85 69.81 L549.22 69.93 L549.59 70.10 L549.96 70.30 L550.34 70.53 L550.71 70.78 L551.08 71.05 L551.45 71.33 L551.83 71.62 L552.20 71.90 L552.59 72.21 L552.97 72.57 L553.36 72.96 L553.75 73.39 L554.13 73.86 L554.52 74.36 L554.91 74.89 L555.29 75.44 L555.68 76.02 L556.07 76.63 L556.45 77.25 L556.84 77.89 L557.23 78.55 L557.61 79.22 L558.00 79.90 L558.39 80.62 L558.79 81.39 L559.18 82.20 L559.57 83.05 L559.97 83.95 L560.36 84.88 L560.75 85.84 L561.15 86.84 L561.54 87.88 L561.93 88.94 L562.33 90.02 L562.72 91.14 L563.11 92.27 L563.51 93.43 L563.90 94.60 L564.29 95.81 L564.68 97.08 L565.08 98.40 L565.47 99.77 L565.86 101.19 L566.25 102.65 L566.65 104.15 L567.04 105.68 L567.43 107.24 L567.82 108.83 L568.22 110.44 L568.61 112.06 L569.00 113.70 L569.39 115.33 L569.78 116.97 L570.17 118.63 L570.56 120.33 L570.95 122.08 L571.34 123.88 L571.73 125.77 L572.12 127.74 L572.51 129.81 L572.90 132.00 L573.27 134.26 L573.64 136.73 L574.01 139.37 L574.38 142.14 L574.76 145.01 L575.13 147.93 L575.50 150.88 L575.87 153.82 L576.24 156.70 L576.61 159.56 L576.99 162.44 L577.36 165.33 L577.73 168.25 L578.11 171.20 L578.48 174.18 L578.85 177.21 L579.23 180.28 L579.60 183.40 L580.00 186.78 L580.40 190.21 L580.80 193.68 L581.19 197.22 L581.59 200.82 L581.99 204.49 L582.39 208.25 L582.79 212.10 L583.14 215.58 L583.49 219.15 L583.84 222.81 L584.19 226.54 L584.55 230.34 L584.90 234.20 L585.25 238.13 L585.60 242.10 L585.98 246.47 L586.37 250.87 L586.75 255.38 L587.13 260.03 L587.52 264.89 L587.90 270.00 L588.22 274.51 L588.55 279.24 L588.88 284.35 L589.20 290.00 L589.50 296.28 L589.80 303.34 L590.10 310.00 L590.47 317.42 L590.83 324.71 L591.20 331.74 L591.57 338.39 L591.93 344.52 L592.30 350.00 L592.67 355.40 L593.03 361.00 L593.40 366.29 L593.77 370.72 L594.13 373.77 L594.50 374.90 L594.88 372.44 L595.26 366.11 L595.64 357.53 L596.02 348.29 L596.40 340.00 L596.77 332.39 L597.15 324.40 L597.52 316.71 L597.90 310.00 L598.27 304.33 L598.65 299.22 L599.02 294.49 L599.40 290.00 L599.78 285.51 L600.16 281.12 L600.54 276.97 L600.92 273.22 L601.30 270.00 L601.62 267.72 L601.95 265.74 L602.27 263.89 L602.60 262.00 L602.97 259.71 L603.35 257.42 L603.72 255.19 L604.10 253.10 L604.47 251.14 L604.85 249.27 L605.22 247.49 L605.60 245.80 L605.90 244.51 L606.20 243.28 L606.50 242.11 L606.80 241.00 L607.14 239.80 L607.48 238.64 L607.82 237.53 L608.16 236.48 L608.50 235.50 L608.90 234.38 L609.30 233.26 L609.70 232.18 L610.10 231.17 L610.50 230.24 L610.90 229.45 L611.30 228.80 L611.66 228.32 L612.01 227.89 L612.37 227.50 L612.73 227.15 L613.09 226.84 L613.44 226.55 L613.80 226.30 L614.17 226.05 L614.55 225.81 L614.92 225.58 L615.30 225.37 L615.67 225.18 L616.05 225.02 L616.42 224.89 L616.80 224.80 L617.19 224.73 L617.58 224.66 L617.97 224.60 L618.36 224.54 L618.74 224.49 L619.13 224.45 L619.52 224.43 L619.91 224.41 L620.30 224.40 L620.69 224.42 L621.08 224.48 L621.47 224.56 L621.86 224.68 L622.24 224.82 L622.63 224.97 L623.02 225.14 L623.41 225.32 L623.80 225.50 L624.20 225.71 L624.60 225.98 L625.00 226.30 L625.40 226.65 L625.80 227.04 L626.20 227.46 L626.60 227.90 L627.00 228.36 L627.40 228.84 L627.80 229.32 L628.20 229.80 L628.59 230.29 L628.99 230.82 L629.38 231.37 L629.77 231.95 L630.17 232.56 L630.56 233.19 L630.95 233.84 L631.35 234.50 L631.74 235.18 L632.13 235.86 L632.53 236.55 L632.92 237.24 L633.31 237.93 L633.71 238.62 L634.10 239.30 L634.49 239.98 L634.88 240.67 L635.27 241.37 L635.66 242.08 L636.05 242.79 L636.45 243.52 L636.84 244.25 L637.23 244.99 L637.62 245.73 L638.01 246.47 L638.40 247.22 L638.79 247.97 L639.18 248.72 L639.57 249.47 L639.96 250.21 L640.35 250.96 L640.75 251.70 L641.14 252.43 L641.53 253.16 L641.92 253.88 L642.31 254.59 L642.70 255.30 L643.09 255.99 L643.48 256.68 L643.87 257.35 L644.26 258.02 L644.64 258.70 L645.03 259.37 L645.42 260.04 L645.81 260.72 L646.20 261.40 L646.60 262.11 L647.00 262.83 L647.40 263.56 L647.80 264.29 L648.20 265.02 L648.60 265.75 L649.00 266.48 L649.40 267.20 L649.80 267.91 L650.20 268.61 L650.60 269.30 L650.97 269.92 L651.33 270.53 L651.70 271.13 L652.07 271.73 L652.43 272.32 L652.80 272.90 L653.17 273.49 L653.53 274.07 L653.90 274.65 L654.27 275.23 L654.63 275.81 L655.00 276.40 L655.40 277.06 L655.80 277.74 L656.20 278.44 L656.60 279.15 L657.00 279.85 L657.40 280.54 L657.80 281.20 L658.20 281.83 L658.60 282.41 L659.00 282.94 L659.40 283.40 L659.80 283.81 L660.20 284.20 L660.60 284.57 L661.00 284.91 L661.40 285.24 L661.80 285.55 L662.20 285.84 L662.60 286.12 L663.00 286.39 L663.40 286.65 L663.80 286.90 L664.20 287.14 L664.60 287.38 L665.00 287.61 L665.40 287.83 L665.80 288.04 L666.20 288.25 L666.60 288.44 L667.00 288.62 L667.40 288.80 L667.80 288.95 L668.20 289.10 L668.59 289.24 L668.97 289.37 L669.36 289.51 L669.75 289.65 L670.14 289.78 L670.52 289.91 L670.91 290.03 L671.30 290.15 L671.69 290.26 L672.07 290.36 L672.46 290.45 L672.85 290.53 L673.24 290.60 L673.62 290.65 L674.01 290.68 L674.40 290.70 L674.80 290.71 L675.19 290.72 L675.59 290.72 L675.98 290.73 L676.38 290.74 L676.78 290.74 L677.17 290.75 L677.57 290.75 L677.96 290.76 L678.36 290.77 L678.76 290.77 L679.15 290.77 L679.55 290.78 L679.94 290.78 L680.34 290.78 L680.74 290.79 L681.13 290.79 L681.53 290.79 L681.92 290.79 L682.32 290.80 L682.72 290.80 L683.11 290.80 L683.51 290.80 L683.90 290.80 L684.30 290.80" stroke="#d95319" stroke-width="3.5" stroke-dasharray="11.7 2.2 5.9 2.4"/>
<path d="M85.50 270.10 L85.90 270.10 L86.29 270.10 L86.69 270.10 L87.08 270.10 L87.48 270.10 L87.88 270.10 L88.27 270.10 L88.67 270.10 L89.06 270.10 L89.46 270.10 L89.85 270.10 L90.25 270.10 L90.65 270.10 L91.04 270.10 L91.44 270.10 L91.83 270.10 L92.23 270.10 L92.62 270.10 L93.02 270.10 L93.42 270.10 L93.81 270.10 L94.21 270.10 L94.60 270.10 L95.00 270.10 L95.39 270.10 L95.78 270.09 L96.16 270.08 L96.55 270.06 L96.94 270.03 L97.33 270.01 L97.72 269.98 L98.11 269.94 L98.49 269.90 L98.88 269.86 L99.27 269.81 L99.66 269.77 L100.05 269.72 L100.44 269.67 L100.82 269.61 L101.21 269.56 L101.60 269.50 L101.97 269.44 L102.33 269.36 L102.70 269.27 L103.07 269.17 L103.43 269.06 L103.80 268.94 L104.17 268.81 L104.53 268.67 L104.90 268.53 L105.27 268.39 L105.63 268.25 L106.00 268.10 L106.37 267.95 L106.73 267.79 L107.10 267.63 L107.47 267.45 L107.83 267.27 L108.20 267.08 L108.57 266.89 L108.93 266.68 L109.30 266.47 L109.67 266.25 L110.03 266.03 L110.40 265.80 L110.80 265.54 L111.20 265.25 L111.60 264.95 L112.00 264.64 L112.40 264.31 L112.80 263.97 L113.20 263.63 L113.60 263.28 L114.00 262.92 L114.40 262.56 L114.80 262.20 L115.17 261.87 L115.53 261.53 L115.90 261.18 L116.27 260.82 L116.63 260.46 L117.00 260.10 L117.37 259.72 L117.73 259.35 L118.10 258.97 L118.47 258.58 L118.83 258.19 L119.20 257.80 L119.58 257.39 L119.96 256.97 L120.34 256.54 L120.72 256.10 L121.10 255.66 L121.48 255.22 L121.86 254.77 L122.24 254.31 L122.62 253.86 L123.00 253.40 L123.36 252.97 L123.71 252.53 L124.07 252.09 L124.42 251.65 L124.78 251.20 L125.13 250.76 L125.49 250.30 L125.84 249.85 L126.20 249.40 L126.57 248.93 L126.94 248.45 L127.31 247.98 L127.68 247.50 L128.05 247.02 L128.42 246.53 L128.79 246.05 L129.16 245.57 L129.53 245.08 L129.90 244.60 L130.27 244.11 L130.65 243.62 L131.02 243.12 L131.39 242.62 L131.76 242.12 L132.14 241.62 L132.51 241.13 L132.88 240.64 L133.25 240.15 L133.63 239.67 L134.00 239.20 L134.39 238.71 L134.78 238.22 L135.18 237.74 L135.57 237.25 L135.96 236.77 L136.35 236.30 L136.74 235.83 L137.13 235.37 L137.52 234.91 L137.92 234.47 L138.31 234.03 L138.70 233.60 L139.07 233.20 L139.43 232.81 L139.80 232.42 L140.17 232.04 L140.53 231.66 L140.90 231.30 L141.27 230.95 L141.63 230.61 L142.00 230.30 L142.36 230.00 L142.71 229.70 L143.07 229.41 L143.43 229.14 L143.79 228.89 L144.14 228.68 L144.50 228.50 L144.87 228.34 L145.25 228.18 L145.62 228.03 L145.99 227.88 L146.36 227.74 L146.74 227.62 L147.11 227.51 L147.48 227.42 L147.85 227.36 L148.23 227.31 L148.60 227.30 L149.00 227.32 L149.40 227.37 L149.80 227.45 L150.20 227.56 L150.60 227.70 L151.00 227.86 L151.40 228.05 L151.80 228.25 L152.20 228.48 L152.60 228.72 L153.00 228.97 L153.40 229.24 L153.80 229.52 L154.20 229.80 L154.59 230.12 L154.97 230.53 L155.36 231.01 L155.75 231.56 L156.13 232.18 L156.52 232.86 L156.91 233.59 L157.29 234.38 L157.68 235.21 L158.07 236.08 L158.45 236.98 L158.84 237.90 L159.23 238.85 L159.61 239.82 L160.00 240.80 L160.34 241.74 L160.69 242.81 L161.03 243.98 L161.37 245.21 L161.71 246.47 L162.06 247.75 L162.40 249.00 L162.80 250.33 L163.20 251.62 L163.60 253.10 L164.00 255.00 L164.38 257.80 L164.75 261.65 L165.12 265.93 L165.50 270.00 L165.90 273.97 L166.30 277.90 L166.70 281.85 L167.10 285.86 L167.50 290.00 L167.86 293.69 L168.22 297.31 L168.58 301.10 L168.94 305.25 L169.30 310.00 L169.70 316.22 L170.10 323.45 L170.50 331.56 L170.90 340.45 L171.30 350.00 L171.62 358.62 L171.95 368.31 L172.28 378.85 L172.60 390.00 L172.93 401.64 L173.27 414.39 L173.60 430.00 L173.90 449.19 L174.20 473.50 L174.57 520.47 L174.93 574.29 L175.30 600.00 L175.70 572.99 L176.10 517.87 L176.50 473.50 L176.80 457.04 L177.10 443.94 L177.40 430.00 L177.75 410.08 L178.10 390.00 L178.37 376.26 L178.63 363.13 L178.90 350.00 L179.30 328.10 L179.70 310.00 L180.00 301.91 L180.30 295.57 L180.60 290.00 L180.93 284.35 L181.25 279.24 L181.57 274.51 L181.90 270.00 L182.28 264.90 L182.67 260.07 L183.05 255.45 L183.43 250.95 L183.82 246.53 L184.20 242.10 L184.59 237.64 L184.97 233.23 L185.36 228.87 L185.74 224.58 L186.13 220.34 L186.51 216.18 L186.90 212.10 L187.26 208.32 L187.62 204.58 L187.99 200.88 L188.35 197.24 L188.71 193.66 L189.08 190.16 L189.44 186.73 L189.80 183.40 L190.20 179.83 L190.60 176.35 L191.00 172.96 L191.40 169.63 L191.80 166.36 L192.20 163.12 L192.60 159.91 L193.00 156.70 L193.40 153.44 L193.80 150.11 L194.20 146.78 L194.60 143.50 L195.00 140.32 L195.40 137.30 L195.80 134.51 L196.20 132.00 L196.59 129.78 L196.98 127.68 L197.37 125.70 L197.76 123.82 L198.15 122.02 L198.54 120.29 L198.93 118.61 L199.32 116.96 L199.71 115.33 L200.10 113.70 L200.49 112.06 L200.88 110.44 L201.28 108.83 L201.67 107.24 L202.06 105.68 L202.45 104.15 L202.85 102.65 L203.24 101.19 L203.63 99.77 L204.02 98.40 L204.42 97.08 L204.81 95.81 L205.20 94.60 L205.59 93.43 L205.99 92.27 L206.38 91.14 L206.77 90.02 L207.17 88.94 L207.56 87.88 L207.95 86.84 L208.35 85.84 L208.74 84.88 L209.13 83.95 L209.53 83.05 L209.92 82.20 L210.31 81.39 L210.71 80.62 L211.10 79.90 L211.49 79.22 L211.87 78.54 L212.26 77.88 L212.65 77.24 L213.03 76.61 L213.42 76.00 L213.81 75.42 L214.19 74.86 L214.58 74.33 L214.97 73.83 L215.35 73.36 L215.74 72.94 L216.13 72.55 L216.51 72.20 L216.90 71.90 L217.27 71.64 L217.63 71.37 L218.00 71.11 L218.37 70.86 L218.73 70.62 L219.10 70.40 L219.47 70.21 L219.83 70.04 L220.20 69.90 L220.57 69.79 L220.93 69.72 L221.30 69.70 L221.69 69.72 L222.09 69.79 L222.48 69.89 L222.87 70.03 L223.27 70.21 L223.66 70.42 L224.05 70.66 L224.45 70.92 L224.84 71.21 L225.23 71.52 L225.63 71.85 L226.02 72.20 L226.41 72.56 L226.81 72.92 L227.20 73.30 L227.59 73.73 L227.98 74.26 L228.38 74.89 L228.77 75.59 L229.16 76.38 L229.55 77.22 L229.95 78.13 L230.34 79.08 L230.73 80.08 L231.12 81.11 L231.52 82.16 L231.91 83.23 L232.30 84.30 L232.70 85.44 L233.10 86.67 L233.50 87.98 L233.90 89.36 L234.30 90.81 L234.70 92.32 L235.10 93.88 L235.50 95.49 L235.90 97.13 L236.30 98.80 L236.70 100.50 L237.09 102.18 L237.48 103.91 L237.87 105.69 L238.26 107.53 L238.64 109.45 L239.03 111.45 L239.42 113.53 L239.81 115.71 L240.20 118.00 L240.60 120.59 L241.00 123.46 L241.40 126.48 L241.80 129.54 L242.20 132.50 L242.58 135.17 L242.96 137.77 L243.33 140.33 L243.71 142.89 L244.09 145.47 L244.47 148.11 L244.84 150.84 L245.22 153.69 L245.60 156.70 L245.95 159.63 L246.30 162.67 L246.65 165.83 L247.00 169.12 L247.35 172.51 L247.70 176.03 L248.05 179.66 L248.40 183.40 L248.78 187.67 L249.17 192.16 L249.55 196.85 L249.93 201.74 L250.32 206.83 L250.70 212.10 L251.08 217.65 L251.46 223.57 L251.84 229.72 L252.22 235.94 L252.60 242.10 L252.87 246.28 L253.13 250.49 L253.40 255.00 L253.73 261.00 L254.07 267.49 L254.40 275.00 L254.80 286.55 L255.20 300.00 L255.47 309.12 L255.73 318.85 L256.00 330.00 L256.35 349.32 L256.70 370.00 L257.00 386.16 L257.30 400.00 L257.60 411.90 L257.90 422.14 L258.20 426.50 L258.57 421.63 L258.93 410.87 L259.30 400.00 L259.63 392.15 L259.97 384.19 L260.30 375.00 L260.60 364.21 L260.90 351.75 L261.20 340.00 L261.47 330.39 L261.73 321.28 L262.00 314.00 L262.38 306.47 L262.75 300.24 L263.12 294.89 L263.50 290.00 L263.85 285.74 L264.20 281.86 L264.55 278.26 L264.90 274.82 L265.25 271.43 L265.60 268.00 L265.96 264.33 L266.32 260.61 L266.68 257.01 L267.04 253.68 L267.40 250.80 L267.78 248.11 L268.17 245.61 L268.55 243.30 L268.93 241.19 L269.32 239.29 L269.70 237.60 L270.06 236.15 L270.41 234.76 L270.77 233.46 L271.13 232.26 L271.49 231.21 L271.84 230.31 L272.20 229.60 L272.57 228.98 L272.93 228.38 L273.30 227.86 L273.67 227.43 L274.03 227.13 L274.40 227.00 L274.78 226.97 L275.16 226.94 L275.54 226.92 L275.92 226.90 L276.30 226.90 L276.69 226.94 L277.07 227.06 L277.46 227.23 L277.84 227.43 L278.23 227.64 L278.61 227.84 L279.00 228.00 L279.40 228.15 L279.80 228.32 L280.20 228.48 L280.60 228.64 L281.00 228.78 L281.40 228.90 L281.80 228.97 L282.20 229.00 L282.56 228.98 L282.92 228.93 L283.28 228.86 L283.64 228.76 L284.00 228.64 L284.36 228.52 L284.72 228.39 L285.08 228.25 L285.44 228.12 L285.80 228.00 L286.19 227.85 L286.57 227.68 L286.96 227.49 L287.34 227.30 L287.73 227.15 L288.11 227.04 L288.50 227.00 L288.86 227.00 L289.21 227.00 L289.57 227.00 L289.93 227.00 L290.29 227.00 L290.64 227.00 L291.00 227.00 L291.36 227.05 L291.71 227.18 L292.07 227.38 L292.43 227.64 L292.79 227.94 L293.14 228.27 L293.50 228.60 L293.86 229.01 L294.22 229.53 L294.58 230.15 L294.94 230.81 L295.30 231.50 L295.65 232.21 L296.00 232.98 L296.35 233.82 L296.70 234.70 L297.02 235.56 L297.34 236.48 L297.66 237.45 L297.98 238.46 L298.30 239.50 L298.65 240.63 L299.00 241.79 L299.35 243.08 L299.70 244.60 L300.07 246.71 L300.43 249.29 L300.80 252.00 L301.10 254.22 L301.40 256.56 L301.70 259.00 L302.07 262.14 L302.43 265.43 L302.80 268.83 L303.17 272.29 L303.53 275.80 L303.90 279.30 L304.25 282.68 L304.60 286.12 L304.95 289.58 L305.30 293.00 L305.70 296.89 L306.10 300.80 L306.50 304.69 L306.90 308.54 L307.30 312.32 L307.70 316.00 L307.98 318.60 L308.25 320.80 L308.45 321.80 L308.84 321.79 L309.24 321.74 L309.63 321.66 L310.02 321.53 L310.42 321.34 L310.81 321.10 L311.21 320.79 L311.60 320.40 L311.85 319.00 L312.08 316.72 L312.30 314.00 L312.64 310.21 L312.98 306.41 L313.32 302.61 L313.66 298.81 L314.00 295.00 L314.35 290.93 L314.70 286.74 L315.05 282.77 L315.40 279.30 L315.79 275.96 L316.18 272.82 L316.57 269.87 L316.96 267.09 L317.34 264.45 L317.73 261.95 L318.12 259.55 L318.51 257.24 L318.90 255.00 L319.29 252.85 L319.67 250.80 L320.06 248.83 L320.45 246.95 L320.84 245.13 L321.23 243.38 L321.61 241.67 L322.00 240.00 L322.35 238.45 L322.70 236.84 L323.05 235.21 L323.40 233.65 L323.75 232.22 L324.10 230.97 L324.45 229.97 L324.80 229.30 L325.16 228.80 L325.52 228.33 L325.89 227.91 L326.25 227.54 L326.61 227.23 L326.98 227.00 L327.34 226.85 L327.70 226.80 L328.10 226.85 L328.50 226.98 L328.90 227.19 L329.30 227.46 L329.70 227.76 L330.10 228.10 L330.50 228.44 L330.90 228.78 L331.30 229.11 L331.70 229.40 L332.07 229.67 L332.43 229.97 L332.80 230.30 L333.17 230.64 L333.53 230.99 L333.90 231.32 L334.27 231.64 L334.63 231.92 L335.00 232.15 L335.37 232.34 L335.73 232.46 L336.10 232.50 L336.48 232.45 L336.86 232.32 L337.25 232.12 L337.63 231.86 L338.01 231.56 L338.39 231.22 L338.77 230.88 L339.15 230.52 L339.54 230.19 L339.92 229.87 L340.30 229.60 L340.68 229.33 L341.06 229.04 L341.45 228.73 L341.83 228.41 L342.21 228.11 L342.59 227.81 L342.97 227.55 L343.35 227.33 L343.74 227.15 L344.12 227.04 L344.50 227.00 L344.88 227.08 L345.27 227.29 L345.65 227.62 L346.03 228.03 L346.42 228.50 L346.80 229.00 L347.20 229.67 L347.60 230.59 L348.00 231.71 L348.40 233.00 L348.70 234.17 L349.00 235.60 L349.30 237.23 L349.60 239.00 L350.00 241.82 L350.40 245.00 L350.80 248.23 L351.20 251.57 L351.60 255.00 L352.00 258.49 L352.40 262.00 L352.78 265.39 L353.16 268.85 L353.54 272.35 L353.92 275.85 L354.30 279.30 L354.65 282.45 L355.00 285.58 L355.35 288.70 L355.70 291.81 L356.05 294.91 L356.40 298.00 L356.76 301.66 L357.12 305.81 L357.48 309.70 L357.84 312.57 L358.20 313.70 L358.60 310.44 L359.00 303.25 L359.40 296.00 L359.77 290.44 L360.13 284.82 L360.50 279.30 L360.90 273.45 L361.30 267.69 L361.70 262.00 L362.03 257.43 L362.37 252.90 L362.70 248.00 L363.00 243.27 L363.30 238.13 L363.60 232.00 L363.90 222.87 L364.20 214.00 L364.50 208.70 L364.80 204.47 L365.10 200.00 L365.40 194.71 L365.70 189.15 L366.00 183.70 L366.40 176.56 L366.80 169.34 L367.20 162.33 L367.60 155.79 L368.00 150.00 L368.40 144.85 L368.80 140.06 L369.20 135.65 L369.60 131.62 L370.00 128.00 L370.34 125.23 L370.68 122.71 L371.02 120.37 L371.36 118.15 L371.70 116.00 L372.06 113.76 L372.43 111.58 L372.79 109.48 L373.15 107.43 L373.51 105.46 L373.88 103.54 L374.24 101.69 L374.60 99.90 L375.00 97.99 L375.40 96.12 L375.80 94.32 L376.20 92.56 L376.60 90.85 L377.00 89.20 L377.40 87.58 L377.80 86.02 L378.20 84.50 L378.54 83.27 L378.88 82.09 L379.22 80.96 L379.56 79.84 L379.90 78.70 L380.24 77.44 L380.58 76.09 L380.92 74.78 L381.26 73.70 L381.60 73.00 L381.93 72.61 L382.26 72.30 L382.59 72.06 L382.92 71.83 L383.25 71.60 L383.58 71.33 L383.91 71.04 L384.24 70.77 L384.57 70.57 L384.90 70.50 L385.24 70.58 L385.58 70.77 L385.92 71.04 L386.26 71.33 L386.60 71.60 L386.94 71.83 L387.28 72.06 L387.62 72.30 L387.96 72.61 L388.30 73.00 L388.65 73.70 L389.00 74.78 L389.35 76.09 L389.70 77.44 L390.05 78.70 L390.40 79.84 L390.75 80.96 L391.10 82.09 L391.45 83.27 L391.80 84.50 L392.17 85.87 L392.54 87.28 L392.91 88.72 L393.28 90.21 L393.66 91.73 L394.03 93.29 L394.40 94.89 L394.77 96.52 L395.14 98.19 L395.51 99.90 L395.90 101.71 L396.28 103.57 L396.67 105.49 L397.05 107.46 L397.44 109.49 L397.82 111.59 L398.21 113.76 L398.59 116.00 L398.95 118.15 L399.32 120.37 L399.68 122.71 L400.04 125.23 L400.40 128.00 L400.75 130.99 L401.11 134.25 L401.46 137.79 L401.82 141.59 L402.17 145.66 L402.52 150.00 L402.87 154.73 L403.22 160.01 L403.57 165.70 L403.92 171.65 L404.27 177.70 L404.62 183.70 L404.92 189.12 L405.23 194.70 L405.53 200.00 L405.84 204.47 L406.15 208.70 L406.45 214.00 L406.76 222.87 L407.06 232.00 L407.37 238.12 L407.68 243.24 L407.98 248.00 L408.31 252.73 L408.64 257.12 L408.97 262.00 L409.27 267.34 L409.57 273.27 L409.87 279.30 L410.15 284.82 L410.42 290.44 L410.70 296.00 L411.00 303.25 L411.30 310.44 L411.60 313.70 L411.93 312.57 L412.25 309.70 L412.58 305.81 L412.91 301.66 L413.24 298.00 L413.62 294.28 L414.00 290.53 L414.38 286.77 L414.76 283.02 L415.15 279.30 L415.51 275.78 L415.87 272.26 L416.23 268.77 L416.59 265.34 L416.95 262.00 L417.35 258.42 L417.75 254.87 L418.14 251.42 L418.54 248.11 L418.93 245.00 L419.22 242.83 L419.51 240.79 L419.80 239.00 L420.12 237.23 L420.45 235.60 L420.77 234.17 L421.10 233.00 L421.45 231.96 L421.79 231.02 L422.14 230.20 L422.49 229.52 L422.83 229.00 L423.18 228.57 L423.53 228.16 L423.89 227.79 L424.24 227.47 L424.59 227.22 L424.94 227.06 L425.29 227.00 L425.66 227.04 L426.02 227.15 L426.39 227.33 L426.76 227.55 L427.13 227.81 L427.49 228.10 L427.86 228.41 L428.23 228.73 L428.60 229.04 L428.96 229.33 L429.33 229.60 L429.73 229.90 L430.13 230.25 L430.53 230.63 L430.93 231.01 L431.33 231.39 L431.73 231.74 L432.12 232.05 L432.52 232.29 L432.92 232.44 L433.32 232.50 L433.71 232.44 L434.10 232.27 L434.49 232.01 L434.88 231.69 L435.27 231.31 L435.66 230.91 L436.05 230.49 L436.45 230.09 L436.84 229.72 L437.23 229.40 L437.60 229.10 L437.98 228.77 L438.35 228.43 L438.73 228.09 L439.10 227.75 L439.47 227.45 L439.85 227.19 L440.22 226.98 L440.60 226.85 L440.97 226.80 L441.36 226.85 L441.75 227.00 L442.13 227.23 L442.52 227.54 L442.91 227.91 L443.29 228.33 L443.68 228.80 L444.07 229.30 L444.44 229.98 L444.82 230.97 L445.19 232.22 L445.57 233.66 L445.94 235.22 L446.31 236.84 L446.69 238.46 L447.06 240.00 L447.44 241.48 L447.81 243.00 L448.18 244.54 L448.55 246.13 L448.92 247.77 L449.30 249.46 L449.67 251.23 L450.04 253.07 L450.41 255.00 L450.78 256.99 L451.15 259.05 L451.52 261.18 L451.90 263.39 L452.27 265.71 L452.64 268.14 L453.01 270.70 L453.38 273.41 L453.75 276.27 L454.12 279.30 L454.49 282.76 L454.86 286.74 L455.22 290.92 L455.59 295.00 L455.95 298.81 L456.30 302.61 L456.66 306.41 L457.02 310.21 L457.37 314.00 L457.61 316.72 L457.85 319.00 L458.11 320.40 L458.47 320.75 L458.83 321.04 L459.19 321.27 L459.55 321.45 L459.92 321.59 L460.28 321.69 L460.64 321.75 L461.00 321.79 L461.36 321.80 L461.56 320.80 L461.84 318.60 L462.12 316.00 L462.46 312.85 L462.81 309.63 L463.15 306.35 L463.50 303.03 L463.84 299.68 L464.19 296.34 L464.54 293.00 L464.89 289.58 L465.24 286.12 L465.59 282.68 L465.95 279.30 L466.32 275.80 L466.69 272.29 L467.06 268.83 L467.42 265.43 L467.79 262.14 L468.16 259.00 L468.47 256.56 L468.77 254.22 L469.07 252.00 L469.44 249.29 L469.81 246.71 L470.18 244.60 L470.53 243.08 L470.89 241.79 L471.24 240.63 L471.59 239.50 L471.91 238.46 L472.24 237.45 L472.56 236.48 L472.88 235.56 L473.20 234.70 L473.56 233.82 L473.91 232.98 L474.26 232.21 L474.61 231.50 L474.98 230.81 L475.34 230.15 L475.70 229.53 L476.07 229.01 L476.43 228.60 L476.79 228.27 L477.15 227.94 L477.51 227.64 L477.87 227.38 L478.23 227.18 L478.59 227.05 L478.95 227.00 L479.31 227.00 L479.67 227.00 L480.03 227.00 L480.39 227.00 L480.75 227.00 L481.11 227.00 L481.47 227.00 L481.86 227.04 L482.25 227.15 L482.63 227.30 L483.02 227.49 L483.41 227.68 L483.80 227.85 L484.19 228.00 L484.55 228.12 L484.92 228.25 L485.28 228.39 L485.64 228.52 L486.00 228.64 L486.37 228.76 L486.73 228.86 L487.09 228.93 L487.46 228.98 L487.82 229.00 L488.18 228.98 L488.53 228.92 L488.89 228.82 L489.25 228.71 L489.61 228.57 L489.97 228.43 L490.33 228.28 L490.68 228.13 L491.04 228.00 L491.43 227.84 L491.82 227.64 L492.21 227.43 L492.60 227.23 L492.99 227.06 L493.38 226.94 L493.76 226.90 L494.15 226.90 L494.53 226.92 L494.91 226.94 L495.30 226.97 L495.68 227.00 L496.05 227.13 L496.42 227.43 L496.79 227.86 L497.16 228.39 L497.53 228.98 L497.90 229.60 L498.27 230.32 L498.64 231.22 L499.01 232.28 L499.39 233.47 L499.76 234.77 L500.13 236.15 L500.50 237.60 L500.85 239.04 L501.19 240.63 L501.54 242.37 L501.88 244.26 L502.23 246.29 L502.57 248.48 L502.92 250.80 L503.29 253.64 L503.67 256.89 L504.04 260.45 L504.41 264.19 L504.78 268.00 L505.17 271.94 L505.55 275.99 L505.93 280.27 L506.32 284.90 L506.70 290.00 L507.05 294.89 L507.39 300.24 L507.73 306.47 L508.07 314.00 L508.44 325.69 L508.81 340.00 L509.08 351.75 L509.35 364.21 L509.63 375.00 L509.93 384.19 L510.24 392.15 L510.54 400.00 L510.88 410.87 L511.21 421.63 L511.55 426.50 L511.82 422.14 L512.10 411.90 L512.37 400.00 L512.65 386.16 L512.92 370.00 L513.24 349.32 L513.56 330.00 L513.93 313.86 L514.29 300.00 L514.66 286.55 L515.02 275.00 L515.33 267.49 L515.63 261.00 L515.94 255.00 L516.30 248.36 L516.67 242.10 L517.02 235.90 L517.38 229.66 L517.73 223.52 L518.08 217.62 L518.44 212.10 L518.80 206.80 L519.16 201.71 L519.52 196.82 L519.89 192.14 L520.25 187.67 L520.61 183.40 L520.99 179.13 L521.37 175.00 L521.74 171.03 L522.12 167.20 L522.50 163.54 L522.88 160.04 L523.26 156.70 L523.62 153.67 L523.98 150.79 L524.34 148.02 L524.70 145.36 L525.06 142.76 L525.43 140.20 L525.79 137.65 L526.15 135.10 L526.51 132.50 L526.85 129.99 L527.19 127.44 L527.53 124.91 L527.87 122.45 L528.21 120.12 L528.55 118.00 L528.95 115.71 L529.34 113.53 L529.74 111.45 L530.13 109.45 L530.53 107.53 L530.93 105.69 L531.32 103.91 L531.72 102.18 L532.12 100.50 L532.49 98.94 L532.86 97.41 L533.24 95.89 L533.61 94.41 L533.98 92.97 L534.36 91.56 L534.73 90.20 L535.11 88.89 L535.48 87.65 L535.85 86.46 L536.23 85.34 L536.60 84.30 L537.00 83.23 L537.40 82.16 L537.80 81.11 L538.20 80.08 L538.60 79.08 L539.00 78.13 L539.40 77.22 L539.80 76.38 L540.20 75.59 L540.60 74.89 L541.00 74.26 L541.40 73.73 L541.80 73.30 L542.17 72.95 L542.55 72.60 L542.92 72.26 L543.30 71.94 L543.67 71.63 L544.05 71.33 L544.42 71.05 L544.80 70.79 L545.17 70.55 L545.55 70.34 L545.92 70.15 L546.30 70.00 L546.67 69.87 L547.05 69.78 L547.42 69.72 L547.80 69.70 L548.20 69.73 L548.60 69.81 L549.00 69.93 L549.40 70.10 L549.80 70.29 L550.20 70.52 L550.60 70.77 L551.00 71.04 L551.40 71.32 L551.80 71.61 L552.20 71.90 L552.59 72.20 L552.97 72.55 L553.36 72.94 L553.75 73.36 L554.13 73.83 L554.52 74.33 L554.91 74.86 L555.29 75.42 L555.68 76.00 L556.07 76.61 L556.45 77.24 L556.84 77.88 L557.23 78.54 L557.61 79.22 L558.00 79.90 L558.39 80.62 L558.79 81.39 L559.18 82.20 L559.57 83.05 L559.97 83.95 L560.36 84.88 L560.75 85.84 L561.15 86.84 L561.54 87.88 L561.93 88.94 L562.33 90.02 L562.72 91.14 L563.11 92.27 L563.51 93.43 L563.90 94.60 L564.29 95.81 L564.68 97.08 L565.08 98.40 L565.47 99.77 L565.86 101.19 L566.25 102.65 L566.65 104.15 L567.04 105.68 L567.43 107.24 L567.82 108.83 L568.22 110.44 L568.61 112.06 L569.00 113.70 L569.39 115.33 L569.78 116.97 L570.17 118.63 L570.56 120.33 L570.95 122.08 L571.34 123.88 L571.73 125.77 L572.12 127.74 L572.51 129.81 L572.90 132.00 L573.27 134.26 L573.64 136.73 L574.01 139.37 L574.38 142.14 L574.76 145.01 L575.13 147.93 L575.50 150.88 L575.87 153.82 L576.24 156.70 L576.61 159.56 L576.99 162.44 L577.36 165.33 L577.73 168.25 L578.11 171.20 L578.48 174.18 L578.85 177.21 L579.23 180.28 L579.60 183.40 L580.00 186.78 L580.40 190.21 L580.80 193.68 L581.19 197.22 L581.59 200.82 L581.99 204.49 L582.39 208.25 L582.79 212.10 L583.14 215.58 L583.49 219.15 L583.84 222.81 L584.19 226.54 L584.55 230.34 L584.90 234.20 L585.25 238.13 L585.60 242.10 L585.98 246.47 L586.37 250.87 L586.75 255.38 L587.13 260.03 L587.52 264.89 L587.90 270.00 L588.22 274.51 L588.55 279.24 L588.88 284.35 L589.20 290.00 L589.50 295.57 L589.80 301.91 L590.10 310.00 L590.37 321.08 L590.63 335.54 L590.90 350.00 L591.30 369.66 L591.70 390.00 L592.05 410.08 L592.40 430.00 L592.70 443.94 L593.00 457.04 L593.30 473.50 L593.60 504.26 L593.90 546.52 L594.20 583.90 L594.50 600.00 L594.87 574.29 L595.23 520.47 L595.60 473.50 L595.90 449.19 L596.20 430.00 L596.53 414.39 L596.87 401.64 L597.20 390.00 L597.52 378.85 L597.85 368.31 L598.17 358.62 L598.50 350.00 L598.90 340.45 L599.30 331.56 L599.70 323.45 L600.10 316.22 L600.50 310.00 L600.86 305.25 L601.22 301.10 L601.58 297.31 L601.94 293.69 L602.30 290.00 L602.70 285.86 L603.10 281.85 L603.50 277.90 L603.90 273.97 L604.30 270.00 L604.67 265.93 L605.05 261.65 L605.42 257.80 L605.80 255.00 L606.12 253.44 L606.44 252.18 L606.76 251.10 L607.08 250.08 L607.40 249.00 L607.80 247.54 L608.20 246.05 L608.60 244.59 L609.00 243.19 L609.40 241.91 L609.80 240.80 L610.19 239.82 L610.57 238.85 L610.96 237.90 L611.35 236.98 L611.73 236.08 L612.12 235.21 L612.51 234.38 L612.89 233.59 L613.28 232.86 L613.67 232.18 L614.05 231.56 L614.44 231.01 L614.83 230.53 L615.21 230.12 L615.60 229.80 L615.97 229.53 L616.35 229.27 L616.72 229.02 L617.09 228.78 L617.47 228.55 L617.84 228.34 L618.21 228.14 L618.59 227.96 L618.96 227.79 L619.33 227.65 L619.71 227.53 L620.08 227.43 L620.45 227.36 L620.83 227.32 L621.20 227.30 L621.57 227.31 L621.95 227.36 L622.32 227.42 L622.69 227.51 L623.06 227.62 L623.44 227.74 L623.81 227.88 L624.18 228.03 L624.55 228.18 L624.93 228.34 L625.30 228.50 L625.66 228.68 L626.01 228.89 L626.37 229.14 L626.73 229.41 L627.09 229.70 L627.44 230.00 L627.80 230.30 L628.17 230.61 L628.53 230.95 L628.90 231.30 L629.27 231.66 L629.63 232.04 L630.00 232.42 L630.37 232.81 L630.73 233.20 L631.10 233.60 L631.49 234.03 L631.88 234.47 L632.27 234.91 L632.67 235.37 L633.06 235.83 L633.45 236.30 L633.84 236.77 L634.23 237.25 L634.62 237.74 L635.02 238.22 L635.41 238.71 L635.80 239.20 L636.17 239.67 L636.55 240.15 L636.92 240.64 L637.29 241.13 L637.66 241.62 L638.04 242.12 L638.41 242.62 L638.78 243.12 L639.15 243.62 L639.53 244.11 L639.90 244.60 L640.27 245.08 L640.64 245.57 L641.01 246.05 L641.38 246.53 L641.75 247.02 L642.12 247.50 L642.49 247.98 L642.86 248.45 L643.23 248.93 L643.60 249.40 L643.96 249.85 L644.31 250.30 L644.67 250.76 L645.02 251.20 L645.38 251.65 L645.73 252.09 L646.09 252.53 L646.44 252.97 L646.80 253.40 L647.18 253.86 L647.56 254.31 L647.94 254.77 L648.32 255.22 L648.70 255.66 L649.08 256.10 L649.46 256.54 L649.84 256.97 L650.22 257.39 L650.60 257.80 L650.97 258.19 L651.33 258.58 L651.70 258.97 L652.07 259.35 L652.43 259.72 L652.80 260.10 L653.17 260.46 L653.53 260.82 L653.90 261.18 L654.27 261.53 L654.63 261.87 L655.00 262.20 L655.40 262.56 L655.80 262.92 L656.20 263.28 L656.60 263.63 L657.00 263.97 L657.40 264.31 L657.80 264.64 L658.20 264.95 L658.60 265.25 L659.00 265.54 L659.40 265.80 L659.80 266.05 L660.20 266.29 L660.60 266.53 L661.00 266.76 L661.40 266.98 L661.80 267.19 L662.20 267.39 L662.60 267.58 L663.00 267.76 L663.40 267.94 L663.80 268.10 L664.20 268.26 L664.60 268.42 L665.00 268.57 L665.40 268.72 L665.80 268.87 L666.20 269.00 L666.60 269.13 L667.00 269.25 L667.40 269.35 L667.80 269.43 L668.20 269.50 L668.59 269.56 L668.98 269.61 L669.36 269.67 L669.75 269.72 L670.14 269.77 L670.53 269.81 L670.92 269.86 L671.31 269.90 L671.69 269.94 L672.08 269.98 L672.47 270.01 L672.86 270.03 L673.25 270.06 L673.64 270.08 L674.02 270.09 L674.41 270.10 L674.80 270.10 L675.20 270.10 L675.59 270.10 L675.99 270.10 L676.38 270.10 L676.78 270.10 L677.17 270.10 L677.57 270.10 L677.97 270.10 L678.36 270.10 L678.76 270.10 L679.15 270.10 L679.55 270.10 L679.95 270.10 L680.34 270.10 L680.74 270.10 L681.13 270.10 L681.53 270.10 L681.92 270.10 L682.32 270.10 L682.72 270.10 L683.11 270.10 L683.51 270.10 L683.90 270.10 L684.30 270.10" stroke="#0000ff" stroke-width="3.2"/>
</g>
<g stroke="#000" stroke-width="1.4" fill="none">
<rect x="85.50" y="10.30" width="598.80" height="463.20"/>
<path d="M118.77 473.50V466.70 M118.77 10.30V17.10 M185.30 473.50V466.70 M185.30 10.30V17.10 M251.83 473.50V466.70 M251.83 10.30V17.10 M318.37 473.50V466.70 M318.37 10.30V17.10 M384.90 473.50V466.70 M384.90 10.30V17.10 M451.43 473.50V466.70 M451.43 10.30V17.10 M517.97 473.50V466.70 M517.97 10.30V17.10 M584.50 473.50V466.70 M584.50 10.30V17.10 M651.03 473.50V466.70 M651.03 10.30V17.10 M85.50 10.30H92.30 M684.30 10.30H677.50 M85.50 68.20H92.30 M684.30 68.20H677.50 M85.50 126.10H92.30 M684.30 126.10H677.50 M85.50 184.00H92.30 M684.30 184.00H677.50 M85.50 241.90H92.30 M684.30 241.90H677.50 M85.50 299.80H92.30 M684.30 299.80H677.50 M85.50 357.70H92.30 M684.30 357.70H677.50 M85.50 415.60H92.30 M684.30 415.60H677.50 M85.50 473.50H92.30 M684.30 473.50H677.50 "/>
</g>
<g font-family="'Liberation Sans', sans-serif" fill="#000" stroke="#000" stroke-width="0.3">
<text x="116.67" y="497.00" font-size="20.8" text-anchor="middle">-80</text>
<text x="183.20" y="497.00" font-size="20.8" text-anchor="middle">-60</text>
<text x="249.73" y="497.00" font-size="20.8" text-anchor="middle">-40</text>
<text x="316.27" y="497.00" font-size="20.8" text-anchor="middle">-20</text>
<text x="384.10" y="497.00" font-size="20.8" text-anchor="middle">0</text>
<text x="449.63" y="497.00" font-size="20.8" text-anchor="middle">20</text>
<text x="516.17" y="497.00" font-size="20.8" text-anchor="middle">40</text>
<text x="582.70" y="497.00" font-size="20.8" text-anchor="middle">60</text>
<text x="649.23" y="497.00" font-size="20.8" text-anchor="middle">80</text>
<text x="75.50" y="18.90" font-size="22.4" text-anchor="end">5</text>
<text x="75.50" y="76.80" font-size="22.4" text-anchor="end">0</text>
<text x="75.50" y="134.70" font-size="22.4" text-anchor="end">-5</text>
<text x="75.50" y="192.60" font-size="22.4" text-anchor="end">-10</text>
<text x="75.50" y="250.50" font-size="22.4" text-anchor="end">-15</text>
<text x="75.50" y="308.40" font-size="22.4" text-anchor="end">-20</text>
<text x="75.50" y="366.30" font-size="22.4" text-anchor="end">-25</text>
<text x="75.50" y="424.20" font-size="22.4" text-anchor="end">-30</text>
<text x="75.50" y="482.10" font-size="22.4" text-anchor="end">-35</text>
</g>
<g font-family="'Liberation Sans', sans-serif" fill="#000" stroke="#000" stroke-width="0.3">
<text x="334.60" y="538.90" font-size="24.5" textLength="79.30" lengthAdjust="spacingAndGlyphs">Angle (</text>
<text x="422.50" y="530.40" font-size="9.0" text-anchor="middle" stroke-width="0.45">◯</text>
<text x="427.00" y="538.90" font-size="24.5">)</text>
<text transform="translate(22.30 389.00) rotate(-90)" font-size="25.5" textLength="286.80" lengthAdjust="spacingAndGlyphs">Synthesized beampattern</text>
</g>
<rect x="285.30" y="381.00" width="207.30" height="89.30" fill="#fff" stroke="#000" stroke-width="1.4"/>
<g fill="none">
<path d="M290.30 397.90H347.00" stroke="#000" stroke-width="3.4" stroke-dasharray="3.3 2.25"/>
<path d="M290.30 426.00H347.00" stroke="#d95319" stroke-width="3.5" stroke-dasharray="11.7 2.2 5.9 2.4"/>
<path d="M290.30 454.20H347.00" stroke="#0000ff" stroke-width="3.2"/>
</g>
<g font-family="'Liberation Sans', sans-serif" font-size="20" fill="#000" stroke="#000" stroke-width="0.3">
<text x="351.00" y="404.70" textLength="128.60" lengthAdjust="spacingAndGlyphs">Full ULA:SQP</text>
<text x="351.00" y="433.90" textLength="116.40" lengthAdjust="spacingAndGlyphs">Full ULA:CM</text>
<text x="351.00" y="461.90" textLength="135.40" lengthAdjust="spacingAndGlyphs">SA: unit-PVPR</text>
</g>
</svg>
</body></html>
